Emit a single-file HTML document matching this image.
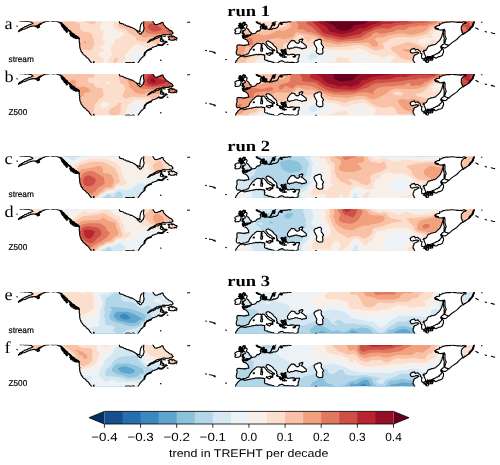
<!DOCTYPE html>
<html><head><meta charset="utf-8"><title>fig</title>
<style>html,body{margin:0;padding:0;background:#fff}svg{display:block}text{font-family:"Liberation Sans",sans-serif;fill:#000;text-rendering:geometricPrecision}.s{font-family:"Liberation Serif",serif}</style></head><body>
<svg width="500" height="465" viewBox="0 0 500 465">
<rect width="500" height="465" fill="#fff"/>
<defs>
<clipPath id="land" clip-rule="evenodd"><path clip-rule="evenodd" d="M51.0,-8.3 51.0,-0.2 57.0,0.0 60.0,1.0 62.0,2.0 64.0,3.7 66.0,6.0 68.5,8.5 70.5,9.9 72.0,11.7 75.0,14.0 77.5,15.3 79.2,17.0 79.3,20.7 79.6,24.7 80.3,27.7 81.8,31.0 83.5,33.2 86.0,35.1 88.0,37.0 90.0,39.7 91.5,41.9 92.3,49.7 124.6,49.7 125.6,41.5 128.0,41.3 131.0,41.5 134.4,41.4 135.5,49.7 137.6,49.7 138.0,41.7 139.3,39.7 141.0,37.4 142.8,35.5 144.6,34.0 144.4,32.2 145.6,30.7 147.0,29.3 148.5,28.5 150.5,27.9 152.0,26.5 153.7,25.7 155.5,25.0 157.0,24.5 158.5,23.2 160.0,23.3 161.5,24.0 164.0,22.2 166.0,21.0 167.3,20.5 166.0,19.7 164.0,20.3 162.0,20.1 160.3,19.2 160.8,16.7 161.8,15.0 160.0,15.5 157.0,16.7 153.0,18.7 149.5,20.3 147.5,21.1 149.0,19.7 152.5,17.5 156.0,15.5 159.0,14.3 162.0,13.7 165.5,13.6 169.0,13.3 172.0,12.6 173.2,11.7 172.0,10.0 170.8,9.1 168.5,7.7 166.0,6.2 164.5,4.2 163.2,2.2 162.3,1.0 161.3,1.2 160.0,2.3 158.5,2.5 157.0,3.2 155.2,3.1 154.0,1.7 153.2,0.5 153.0,-8.3 143.6,-8.3 143.7,1.2 143.9,5.7 143.2,9.7 141.5,12.1 139.6,12.5 138.2,11.3 137.0,9.5 135.0,7.9 132.5,6.3 128.0,4.7 124.0,3.3 120.5,2.0 119.4,0.7 119.2,-8.3Z M92.9,49.7 93.4,40.5 94.0,40.2 94.8,49.7Z M20.0,-8.3 20.0,-0.2 26.0,-0.1 30.0,0.4 33.0,1.9 30.0,3.3 26.0,5.1 22.0,7.2 18.4,9.7 18.6,10.3 21.0,9.1 24.0,7.8 27.0,6.5 30.0,5.4 33.0,4.6 35.0,5.0 37.5,4.4 39.5,3.2 41.5,2.1 45.0,0.3 49.0,-0.1 49.0,-8.3Z M168.0,15.3 170.0,14.6 172.0,14.2 172.3,15.5 174.5,15.3 175.5,16.1 177.2,17.0 176.3,18.7 174.8,17.9 173.5,18.6 171.0,18.8 168.6,18.3 169.4,16.9Z M235.4,49.7 235.6,41.7 236.4,39.2 237.6,37.3 239.3,35.9 241.5,34.7 241.6,34.3 240.5,34.1 239.5,33.3 237.2,33.6 236.7,32.9 236.2,31.2 236.4,29.7 237.2,27.7 236.8,25.7 237.0,24.0 238.0,23.5 242.0,23.7 246.0,24.0 248.7,23.3 248.4,21.7 247.6,19.7 246.0,18.0 243.2,17.1 242.5,16.0 245.0,15.6 247.4,15.3 247.5,14.0 248.6,14.7 250.5,13.8 252.5,12.5 254.0,12.2 256.0,11.2 257.5,9.5 259.5,8.9 260.6,8.3 260.8,6.7 260.6,4.7 261.2,3.3 263.4,2.3 264.4,2.9 264.4,2.9 262.0,2.3 259.5,3.0 257.7,2.0 256.6,0.7 256.4,-8.3 474.4,-8.3 474.2,0.3 473.6,1.7 473.0,3.3 472.2,4.9 471.0,6.5 469.4,8.3 467.6,9.9 465.6,11.5 463.4,12.9 462.0,10.9 461.3,8.7 461.3,6.7 461.8,4.5 463.4,2.5 466.2,1.1 465.0,0.4 463.0,0.7 461.0,1.0 455.0,0.6 450.0,0.7 446.0,0.7 443.0,1.2 440.5,2.7 438.0,4.2 436.0,5.0 435.0,6.2 435.5,7.2 438.0,7.7 440.0,8.7 441.5,8.5 443.0,9.3 442.8,11.7 442.0,14.7 440.6,17.7 438.5,20.2 436.0,22.2 433.0,23.7 430.0,24.5 428.5,24.7 427.0,27.2 425.6,28.7 424.0,29.0 423.0,30.2 424.0,31.7 425.3,34.2 425.5,36.7 424.0,37.5 422.0,37.2 421.5,34.7 422.0,32.4 420.3,31.7 420.0,29.7 418.5,28.7 417.0,28.1 416.0,28.2 415.5,28.7 414.5,26.9 413.5,27.2 411.5,27.7 410.0,29.2 410.5,30.7 412.5,31.7 414.5,31.2 417.0,30.7 418.7,31.7 416.0,33.2 413.7,34.7 413.0,38.7 415.0,41.7 415.3,49.7 317.0,49.7 316.4,41.3 315.6,41.3 315.0,49.7Z M242.0,34.4 243.0,33.7 246.0,33.3 247.5,32.5 249.0,31.2 249.8,29.2 250.5,27.9 252.0,26.2 254.0,24.7 254.5,23.7 256.0,22.7 258.0,21.9 260.0,22.2 261.5,22.9 262.5,22.0 264.0,22.3 265.5,24.2 267.5,26.2 269.5,28.0 271.5,28.7 272.3,30.7 271.5,32.5 272.8,31.2 273.2,29.5 273.0,28.5 274.6,29.3 274.2,28.3 272.2,27.3 271.4,26.5 269.4,25.5 267.6,23.9 266.2,22.3 266.0,20.9 266.8,19.9 268.8,19.7 269.6,20.5 271.2,21.3 273.2,23.3 275.4,25.3 276.8,26.9 276.6,28.7 277.3,30.2 278.3,31.2 279.5,32.5 279.5,33.7 281.0,34.9 282.0,34.2 282.5,32.9 283.0,32.2 282.0,31.0 281.5,29.7 281.5,28.2 283.0,28.5 283.5,29.2 284.5,28.0 286.0,27.7 286.0,29.2 286.0,30.7 286.5,32.0 287.5,33.5 290.0,33.2 292.0,33.2 292.5,32.7 295.0,34.0 297.0,33.4 299.5,33.2 299.0,35.7 298.2,38.7 297.2,40.7 296.7,41.3 294.0,41.2 292.5,40.9 290.0,41.1 287.0,40.7 285.0,40.9 283.0,39.7 281.0,39.5 279.5,40.0 278.0,41.2 277.0,41.9 275.0,41.9 272.0,40.7 270.0,39.9 268.0,39.7 265.5,38.7 264.5,37.7 265.0,36.2 264.5,35.2 265.0,33.7 263.5,33.2 260.0,33.2 254.0,33.5 250.0,34.2 247.0,35.0 244.0,35.2 242.0,34.9Z M287.5,25.2 288.5,22.7 290.0,20.7 291.8,18.9 293.5,19.2 295.0,20.7 296.0,21.2 297.0,22.0 298.5,21.7 299.5,20.7 300.0,20.2 299.0,19.2 300.5,18.2 303.0,18.0 302.5,19.5 301.3,20.5 303.0,21.7 305.0,23.5 306.3,24.7 306.5,26.2 304.0,27.0 301.0,26.9 298.0,26.2 296.0,25.7 293.0,26.5 290.0,27.2 288.5,27.0 287.5,26.7Z M316.2,18.9 318.2,18.1 320.5,18.0 321.6,19.3 321.2,21.3 321.6,23.2 323.4,25.1 323.6,26.3 322.4,27.7 322.9,30.9 321.6,32.5 319.2,32.9 317.4,31.9 316.4,30.3 316.8,27.3 315.4,24.3 314.2,22.1 314.0,20.7 315.0,19.5Z M244.9,6.7 247.6,6.9 249.5,9.7 251.0,11.1 250.8,12.6 249.5,13.4 246.0,13.9 244.6,12.9 243.8,11.7 244.3,9.3Z M263.4,21.9 264.0,22.3 265.5,24.2 267.5,26.2 269.5,28.0 271.5,28.7 272.3,30.7 271.5,32.5 272.8,31.2 273.2,29.5 273.0,28.5 274.6,29.3 274.2,28.3 272.2,27.3 271.4,26.5 269.4,25.5 267.6,23.9 266.2,22.3 266.0,21.3Z M277.3,30.2 278.3,31.2 279.5,32.5 279.5,33.7 281.0,34.9 282.0,34.2 282.5,32.9 283.0,32.2 282.0,31.0 281.5,29.7 279.5,29.5Z M420.3,31.7 422.0,32.4 421.5,34.7 422.0,37.2 424.0,37.5 425.5,36.7 425.3,34.2 424.0,31.7 423.0,30.2 421.0,30.3Z M260.8,6.7 260.6,4.7 261.2,3.3 263.4,2.3 264.4,2.9 264.2,4.3 263.8,6.1 264.6,7.9 262.6,8.5 260.6,8.3Z M158.5,23.2 160.0,23.3 161.5,24.0 164.0,22.2 166.0,21.0 167.3,20.5 166.0,19.7 164.0,20.3 162.0,20.1 160.3,19.2 159.5,21.2Z"/></clipPath>
<clipPath id="box"><rect x="0" y="0" width="500" height="41.30"/></clipPath>
<clipPath id="boxs"><rect x="0" y="-0.1" width="500" height="41.60"/></clipPath>
<g id="coast" fill="none" stroke="#000" stroke-linejoin="round" stroke-linecap="round"><path d="M51.0,-8.3 51.0,-7.1 50.9,-6.2 50.9,-5.1 51.0,-3.3 50.9,-2.7 51.1,-1.2 51.0,-0.2 52.2,-0.4 53.4,0.1 54.2,-0.2 55.3,-0.4 57.0,0.0 57.5,0.3 58.6,0.7 60.0,1.0 61.0,1.4 62.0,2.0 62.0,2.4 63.3,3.2 64.0,3.7 64.2,4.3 65.1,5.0 66.0,6.0 67.1,6.6 67.7,7.9 68.5,8.5 69.3,9.2 70.5,9.9 71.3,10.8 72.0,11.7 72.7,12.5 74.4,12.8 75.0,14.0 76.1,14.5 76.5,15.4 77.5,15.3 78.6,15.8 79.2,17.0 79.3,18.4 79.2,19.7 79.3,20.7 79.4,21.9 79.9,22.5 79.6,23.6 79.6,24.7 79.9,25.4 79.9,26.6 80.3,27.7 81.1,29.1 80.9,29.7 81.8,31.0 82.5,31.2 82.8,32.4 83.5,33.2 84.7,34.0 85.1,34.4 86.0,35.1 86.6,36.2 87.2,36.3 88.0,37.0 88.8,37.9 89.3,38.5 90.0,39.7 90.5,40.3 91.3,41.3 91.5,41.9 91.6,43.2 91.6,44.4 91.8,45.4 91.6,46.5 91.6,46.9 92.1,48.3 92.3,49.7 124.6,49.7 124.8,49.2 124.7,47.2 125.1,46.3 125.1,45.0 125.5,44.0 125.2,42.6 125.6,41.5 126.8,41.1 128.0,41.3 129.1,41.1 130.3,41.5 131.0,41.5 132.2,41.3 133.2,40.9 134.4,41.4 134.2,42.7 134.1,44.0 134.4,45.2 134.8,46.4 135.2,46.9 135.7,48.9 135.5,49.7 136.5,49.6 137.6,49.7 137.6,48.3 138.0,47.3 137.8,46.0 137.7,44.8 138.2,43.9 138.2,42.8 138.0,41.7 138.5,40.6 139.3,39.7 139.7,38.9 140.3,38.1 141.0,37.4 141.2,36.5 142.7,35.9 142.8,35.5 143.4,34.8 144.6,34.0 144.9,32.7 144.4,32.2 144.9,31.3 145.6,30.7 145.8,30.2 147.0,29.3 147.7,28.9 148.5,28.5 149.3,28.3 150.5,27.9 151.1,27.2 152.0,26.5 152.5,25.8 153.7,25.7 155.0,25.2 155.5,25.0 156.3,24.7 157.0,24.5 157.6,23.7 158.5,23.2 159.4,23.2 160.0,23.3 160.7,23.7 161.5,24.0 162.7,23.6 163.3,22.6 164.0,22.2 164.6,21.9 166.0,21.0 166.9,20.7 167.3,20.5 166.8,20.3 166.0,19.7 165.2,20.3 164.0,20.3 162.9,20.6 162.0,20.1 160.8,19.9 160.3,19.2 160.7,18.2 160.8,16.7 161.8,16.3 161.8,15.0 160.6,14.8 160.0,15.5 159.2,15.6 158.0,16.5 157.0,16.7 155.5,16.6 155.1,17.7 153.9,18.2 153.0,18.7 151.6,18.8 150.6,19.5 149.5,20.3 148.0,20.8 147.5,21.1 148.2,20.5 149.0,19.7 149.6,19.0 150.5,18.4 151.7,17.8 152.5,17.5 153.5,17.1 154.8,16.1 155.4,16.0 156.0,15.5 157.0,14.7 157.9,14.9 159.0,14.3 160.0,14.1 160.9,14.2 162.0,13.7 163.2,13.1 164.1,13.1 165.5,13.6 165.8,13.4 168.2,13.4 169.0,13.3 169.7,12.8 171.3,12.9 172.0,12.6 172.6,12.1 173.2,11.7 172.6,11.1 172.0,10.0 171.6,9.6 170.8,9.1 169.7,8.8 169.1,8.5 168.5,7.7 167.3,7.2 166.8,6.3 166.0,6.2 165.7,5.6 164.5,4.2 163.7,3.4 163.2,2.2 162.9,0.9 162.3,1.0 161.3,1.2 160.7,1.7 160.0,2.3 159.3,2.1 158.5,2.5 157.7,2.8 157.0,3.2 156.4,3.2 155.2,3.1 154.6,2.8 154.0,1.7 153.4,1.0 153.2,0.5 152.7,-0.3 153.4,-1.8 153.3,-3.2 153.1,-4.6 153.0,-5.8 153.5,-6.9 153.0,-8.3 151.8,-8.5 150.5,-7.9 149.6,-8.3 148.2,-8.6 147.1,-8.1 145.8,-8.4 144.7,-8.3 143.6,-8.3 143.2,-7.2 143.4,-5.7 143.4,-4.6 144.1,-3.6 143.5,-2.3 143.7,-1.5 143.8,0.6 143.7,1.2 143.7,2.3 143.5,3.5 143.5,4.3 143.9,5.7 144.1,6.4 143.9,8.1 143.4,8.9 143.2,9.7 143.2,10.4 141.9,10.9 141.5,12.1 140.6,12.7 139.6,12.5 139.2,11.6 138.2,11.3 137.4,10.3 137.0,9.5 136.1,8.6 135.0,7.9 134.2,7.4 133.2,6.8 132.5,6.3 131.4,5.9 130.4,6.0 129.3,5.1 128.0,4.7 126.5,4.5 125.5,3.6 125.2,3.8 124.0,3.3 122.8,2.4 121.6,2.2 120.5,2.0 120.1,2.0 119.4,0.7 119.4,-0.8 119.0,-1.9 119.3,-3.5 119.3,-4.8 119.6,-5.4 119.5,-7.1 119.2,-8.3Z M92.9,49.7 93.1,48.5 92.9,47.3 92.7,45.8 93.4,45.0 93.3,44.2 92.8,42.6 93.4,41.8 93.4,40.5 94.0,40.2 94.0,41.7 94.3,42.2 94.0,44.0 94.5,44.4 94.9,46.3 95.0,47.2 94.6,48.2 94.8,49.7 94.6,49.7Z M20.0,-8.3 20.4,-7.3 20.0,-6.4 19.9,-4.5 19.6,-3.3 20.1,-2.8 19.9,-1.4 20.0,-0.2 21.2,-0.3 22.2,-0.2 23.3,-0.5 24.8,0.1 26.0,-0.1 26.6,0.0 27.8,-0.1 29.2,0.1 30.0,0.4 31.4,0.7 32.1,1.3 33.0,1.9 31.8,2.5 31.0,3.0 30.0,3.3 29.0,3.4 28.0,4.2 27.3,4.4 26.0,5.1 25.0,5.1 24.2,5.8 22.5,6.7 22.0,7.2 21.4,7.4 19.9,8.2 19.0,9.2 18.4,9.7 18.6,10.3 19.2,9.7 20.4,9.3 21.0,9.1 22.1,8.4 22.7,7.7 24.0,7.8 25.5,7.3 26.1,6.9 27.0,6.5 28.0,6.1 29.5,5.5 30.0,5.4 30.6,4.8 31.6,5.1 33.0,4.6 34.2,4.5 35.0,5.0 35.9,4.6 37.5,4.4 38.9,3.0 39.5,3.2 40.6,2.3 41.5,2.1 42.7,1.3 43.2,0.8 43.9,1.1 45.0,0.3 46.2,0.1 46.8,-0.4 47.9,-0.0 49.0,-0.1 49.0,-1.3 48.7,-2.5 49.0,-3.3 49.5,-4.8 48.8,-6.0 48.8,-7.3 49.0,-8.3 47.7,-8.6 46.6,-8.3 45.3,-8.4 43.8,-8.6 42.6,-8.5 41.5,-8.3 39.8,-8.3 38.5,-8.5 37.6,-8.9 36.4,-8.3 35.1,-8.4 33.8,-8.6 32.5,-8.5 31.4,-8.6 30.2,-8.3 28.8,-8.4 27.7,-8.8 26.4,-8.2 25.1,-8.2 23.6,-8.4 22.7,-8.2 21.3,-8.7Z M168.0,15.3 169.2,15.3 170.0,14.6 171.3,14.5 172.0,14.2 171.7,15.1 172.3,15.5 173.4,14.7 174.5,15.3 175.5,16.1 176.5,16.1 177.2,17.0 176.4,17.7 176.3,18.7 175.9,18.2 174.8,17.9 174.2,18.7 173.5,18.6 172.7,18.7 171.0,18.8 169.7,18.2 168.6,18.3 168.8,17.7 169.4,16.9 168.8,16.1Z M65.3,7.9 66.2,8.0 66.6,8.5 67.1,9.7 67.6,10.5 66.4,10.9 66.2,10.2 65.8,8.8Z M70.2,12.7 71.2,12.6 72.0,13.1 72.5,13.9 74.0,14.5 75.0,15.1 75.3,15.5 76.3,15.9 77.2,16.7 76.0,16.9 76.0,17.2 75.3,16.9 73.8,16.3 73.0,15.9 72.4,14.5 71.4,14.9 70.6,14.1 70.6,13.9Z M242.0,34.4 243.0,33.7 244.3,33.7 245.1,33.7 246.0,33.3 246.6,32.9 247.5,32.5 248.5,32.4 249.0,31.2 249.4,30.2 249.8,29.2 250.2,28.9 250.5,27.9 251.2,27.5 252.0,26.2 252.7,25.4 254.0,24.7 254.5,23.7 255.2,23.4 256.0,22.7 257.3,21.9 258.0,21.9 258.7,22.1 260.0,22.2 260.6,22.1 261.5,22.9 262.3,22.6 262.5,22.0 263.4,22.0 264.0,22.3 265.0,23.2 265.5,24.2 266.5,24.6 266.6,25.6 267.5,26.2 268.0,27.0 268.9,27.1 269.5,28.0 270.5,28.3 271.5,28.7 272.2,29.5 272.3,30.7 271.8,31.9 271.5,32.5 272.8,32.4 272.8,31.2 273.0,30.4 273.2,29.5 273.0,28.5 274.2,28.9 274.6,29.3 274.2,28.3 272.9,27.8 272.2,27.3 271.4,26.5 270.5,25.8 269.4,25.5 268.0,24.3 267.6,23.9 267.1,22.9 266.2,22.3 266.1,21.7 266.0,20.9 266.8,19.9 268.0,19.7 268.8,19.7 269.6,20.5 270.5,20.7 271.2,21.3 271.8,21.7 272.9,22.6 273.2,23.3 273.7,23.9 274.6,24.8 275.4,25.3 275.7,25.8 276.8,26.9 276.6,28.5 276.6,28.7 277.2,29.4 277.3,30.2 278.0,31.3 278.3,31.2 278.8,31.7 279.5,32.5 279.5,33.7 280.6,34.4 281.0,34.9 282.0,34.2 282.4,33.4 282.5,32.9 283.0,32.2 283.0,32.1 282.0,31.0 281.9,30.5 281.5,29.7 280.9,29.1 281.5,28.2 282.2,28.5 283.0,28.5 283.5,29.2 284.2,28.5 284.5,28.0 284.8,28.0 286.0,27.7 285.8,28.4 286.0,29.2 285.8,29.9 286.0,30.7 285.6,31.7 286.5,32.0 287.1,33.1 287.5,33.5 289.3,33.4 290.0,33.2 290.5,32.9 292.0,33.2 292.5,32.7 293.0,33.0 294.2,33.0 295.0,34.0 296.1,33.3 297.0,33.4 298.3,33.3 299.5,33.2 299.2,34.4 299.0,35.7 298.6,36.5 298.0,37.7 298.2,38.7 298.2,40.3 297.2,40.7 296.7,41.3 296.2,41.5 294.7,41.6 294.0,41.2 293.2,41.0 292.5,40.9 291.2,41.0 290.0,41.1 288.9,40.9 287.7,40.7 287.0,40.7 286.6,40.8 285.0,40.9 283.9,40.4 283.0,39.7 282.2,39.3 281.0,39.5 280.2,40.0 279.5,40.0 278.8,40.6 278.0,41.2 277.0,41.9 276.4,41.7 275.0,41.9 274.0,41.4 273.4,40.6 272.0,40.7 270.8,40.2 270.0,39.9 269.2,40.0 268.0,39.7 267.6,38.9 266.5,39.0 265.5,38.7 264.8,38.4 264.5,37.7 264.5,36.4 265.0,36.2 264.5,35.2 264.6,34.0 265.0,33.7 264.1,33.6 263.5,33.2 262.4,33.6 261.1,32.8 260.0,33.2 258.6,33.0 257.3,33.4 256.2,32.8 255.4,33.4 254.0,33.5 253.1,33.7 252.2,33.9 251.3,34.1 250.0,34.2 249.1,34.6 247.6,34.7 247.0,35.0 245.9,35.1 244.6,35.6 244.0,35.2 243.0,34.7 242.0,34.9Z M287.5,25.2 287.4,24.3 288.1,23.3 288.5,22.7 289.3,21.5 290.0,20.7 291.1,19.6 291.8,18.9 292.6,19.3 293.5,19.2 295.0,19.7 295.0,20.7 296.0,21.2 297.0,22.0 297.6,21.6 298.5,21.7 299.2,20.9 299.5,20.7 300.0,20.2 299.4,19.7 299.0,19.2 299.5,18.4 300.5,18.2 301.6,17.5 303.0,18.0 302.3,18.6 302.5,19.5 301.9,19.9 301.3,20.5 301.7,21.0 303.0,21.7 303.9,22.5 304.3,22.7 305.0,23.5 305.8,23.9 306.3,24.7 306.1,25.2 306.5,26.2 306.1,26.5 305.2,26.6 304.0,27.0 303.3,26.8 302.0,27.6 301.0,26.9 300.2,26.5 299.0,26.5 298.0,26.2 297.3,25.8 296.0,25.7 294.5,25.9 294.0,26.3 293.0,26.5 292.4,26.8 291.2,26.7 290.0,27.2 289.5,27.7 288.5,27.0 287.5,26.7 287.7,26.0Z M316.2,18.9 317.2,19.0 318.2,18.1 319.1,18.0 320.5,18.0 321.2,18.9 321.6,19.3 321.3,20.4 321.2,21.3 321.3,22.3 321.6,23.2 322.2,23.5 322.8,24.7 323.4,25.1 323.6,26.3 322.7,26.9 322.4,27.7 322.8,28.5 322.8,29.5 322.9,30.9 322.6,32.3 321.6,32.5 321.0,32.6 319.2,32.9 318.5,32.4 317.4,31.9 316.9,31.5 316.4,30.3 316.2,29.6 316.7,28.7 316.8,27.3 316.4,26.1 315.9,25.5 315.4,24.3 314.8,23.3 314.2,22.1 314.0,20.8 314.0,20.7 314.8,20.3 315.0,19.5 315.6,19.2Z M243.5,1.0 244.8,1.0 245.5,1.2 245.1,2.1 245.0,3.2 246.3,3.1 247.0,3.7 247.1,4.5 246.5,5.7 246.9,7.1 248.0,7.7 248.7,8.3 249.5,9.7 250.1,10.6 251.0,10.9 251.3,11.6 251.0,12.5 250.4,13.2 249.5,13.5 248.2,13.8 247.2,13.7 246.0,14.0 244.9,14.3 244.0,14.3 243.0,14.7 242.3,14.2 242.9,14.0 243.8,13.4 244.5,12.7 244.3,12.4 243.5,11.7 242.8,10.7 243.6,9.7 243.2,9.2 244.3,8.9 245.0,8.7 245.4,8.2 244.8,6.7 243.6,6.1 243.5,6.0 243.4,5.3 243.0,4.2 242.6,3.7 241.8,3.2 242.3,2.6 242.5,1.7Z M235.0,7.9 235.7,7.7 236.4,6.9 236.9,6.9 238.6,6.5 239.2,6.5 240.4,5.9 240.6,6.4 241.0,7.3 241.1,8.0 241.0,9.3 240.4,9.9 240.4,11.3 239.5,11.9 238.6,12.3 237.9,12.3 236.9,12.4 235.6,12.5 235.2,12.1 234.8,11.3 235.6,10.5 235.8,9.9 235.2,9.4 234.8,8.9Z M256.0,-8.3 256.1,-7.3 256.3,-5.9 256.2,-4.8 256.2,-3.2 256.0,-1.4 256.3,-0.3 256.2,0.5 256.5,1.4 257.4,1.5 257.8,2.0 258.5,2.4 259.5,2.5 260.3,2.8 260.9,2.8 261.6,3.9 260.9,2.5 260.4,2.3 259.3,1.6 258.0,1.3 257.2,0.3 257.0,-1.0 257.3,-2.6 256.7,-3.7 256.6,-4.9 257.6,-6.1 257.4,-7.5 257.2,-8.3Z M269.2,8.1 270.1,7.0 270.8,6.1 271.1,5.6 271.4,4.7 272.0,3.6 273.2,3.2 273.4,2.7 274.0,1.8 274.6,1.5 275.2,0.6 275.4,-0.1 275.6,-1.3 275.9,-3.0 275.3,-3.4 275.3,-5.0 275.3,-6.3 275.4,-6.4 275.4,-8.3 275.8,-8.3 276.1,-7.4 275.6,-6.0 276.1,-4.9 275.6,-3.3 276.0,-2.4 275.5,-1.5 275.8,0.1 275.2,0.3 274.9,1.8 274.5,2.2 273.6,3.0 273.1,4.0 272.3,3.9 271.7,4.9 271.7,5.3 271.1,6.4 270.5,7.6 269.5,8.2Z M264.8,5.3 265.5,4.7 266.6,4.7 266.7,5.2 266.8,6.5 266.5,6.1 265.4,7.1 264.8,6.3Z M261.2,23.7 262.2,24.1 261.8,25.0 262.1,26.0 261.1,26.0 261.1,24.9Z M260.8,26.7 261.6,26.6 262.3,26.7 262.7,27.1 262.4,28.5 262.4,29.7 261.7,29.8 260.9,29.8 260.6,28.6 261.1,27.8Z M266.4,31.7 267.3,32.3 268.5,31.8 270.3,31.2 270.8,31.5 270.7,33.0 270.5,33.1 269.8,34.0 269.0,33.7 267.8,33.3 267.0,32.7 266.3,32.5Z M282.4,35.7 283.4,35.4 284.5,35.5 285.8,35.5 286.6,35.7 285.4,35.6 284.5,36.2 283.4,35.7Z M293.0,35.1 293.6,35.3 294.3,34.9 295.2,34.7 295.8,34.3 295.5,35.0 295.0,35.6 294.3,35.7 293.6,35.9Z M253.2,28.0 254.3,27.8 254.2,28.7 253.3,28.7Z M443.2,8.2 444.3,8.0 444.7,8.6 445.1,9.8 445.0,10.7 444.9,11.6 445.0,12.7 445.0,14.0 445.3,14.7 445.4,15.1 445.8,16.1 446.3,17.7 445.5,18.2 445.3,19.5 445.3,19.8 445.0,21.2 444.2,22.2 443.9,21.5 444.2,19.9 444.0,18.7 444.2,18.4 444.3,16.7 443.9,15.9 443.8,14.7 443.5,13.4 443.6,12.4 443.4,11.7 443.3,10.7 443.9,9.2Z M441.0,25.2 441.7,24.2 442.5,23.2 443.6,22.9 444.5,22.0 445.1,22.4 446.0,23.2 446.5,23.2 448.2,23.7 449.0,24.0 447.7,24.6 447.0,25.5 446.0,26.2 445.0,26.7 443.8,26.4 443.0,26.2 442.0,26.6 442.0,27.7 442.0,26.6 441.0,26.7 440.9,26.0Z M442.5,27.7 442.9,28.0 443.5,28.7 443.5,29.9 443.5,31.2 443.1,31.5 442.8,32.6 442.5,33.7 441.6,34.3 441.0,34.7 439.9,35.2 438.5,35.2 437.4,36.1 436.5,36.5 435.7,36.7 434.6,36.1 433.0,36.0 432.0,36.5 430.6,36.5 430.0,36.7 429.1,36.5 428.5,36.5 428.5,35.6 429.5,35.2 430.7,35.1 432.0,34.5 433.1,34.2 433.6,33.7 434.5,33.7 435.6,32.9 436.5,32.2 437.4,32.4 438.0,31.7 438.7,31.0 439.5,31.2 440.0,29.8 441.0,29.2 441.1,28.8 441.8,27.7Z M426.5,36.7 427.6,36.4 428.5,36.9 428.9,38.2 429.0,38.7 428.6,39.3 428.2,40.4 428.0,41.2 427.4,41.4 426.5,41.0 426.6,40.2 426.0,38.7 426.6,37.9Z M430.5,37.5 431.3,37.3 433.0,37.2 432.8,37.8 432.5,38.7 431.8,38.7 430.5,38.9 430.2,38.6Z M235.4,49.7 235.6,48.6 235.7,47.7 235.6,45.6 235.3,45.0 235.3,44.0 235.9,42.7 235.6,41.7 235.5,41.4 236.0,39.7 236.4,39.2 237.1,38.4 237.6,37.3 238.3,36.8 239.3,35.9 240.3,35.0 241.5,34.7 241.6,34.3 240.5,34.1 239.5,33.3 238.4,33.7 237.2,33.6 236.7,32.9 236.3,32.1 236.2,31.2 236.3,31.2 236.4,29.7 236.6,29.1 237.2,27.7 237.0,26.7 236.8,25.7 237.1,25.1 237.0,24.0 238.0,23.5 239.4,23.6 239.8,23.4 241.1,23.8 242.0,23.7 243.4,23.9 244.3,24.3 245.0,23.5 246.0,24.0 246.6,23.4 248.2,23.3 248.7,23.3 248.9,22.7 248.4,21.7 248.5,21.0 247.6,19.7 246.8,18.8 246.0,18.0 245.1,17.7 244.0,17.4 243.2,17.1 243.3,16.1 242.5,16.0 243.8,15.5 245.0,15.6 246.3,15.7 247.4,15.3 247.4,14.9 247.5,14.0 247.6,14.7 248.6,14.7 249.4,14.4 250.5,13.8 251.6,12.4 252.5,12.5 253.0,12.4 254.0,12.2 255.4,11.8 256.0,11.2 256.8,10.0 257.5,9.5 258.9,9.7 259.5,8.9 260.6,8.3 260.7,7.4 260.8,6.7 260.2,5.9 260.6,4.7 261.7,4.2 261.2,3.3 262.7,3.0 263.4,2.3 264.4,2.9 264.4,2.9 264.0,4.0 264.2,4.3 263.7,5.1 263.8,6.1 264.3,7.2 264.6,7.9 265.7,7.9 266.6,7.6 267.6,7.5 269.1,8.2 270.1,7.9 270.7,7.7 272.0,8.0 272.9,7.2 273.6,6.9 275.0,7.1 275.9,6.9 277.2,6.0 277.5,6.1 277.9,5.4 278.6,4.1 278.7,3.3 279.0,2.7 280.0,2.0 280.0,1.5 280.5,1.0 281.8,1.3 282.6,1.1 283.3,0.7 285.0,1.0 286.0,0.7 287.0,0.8 288.5,0.1 289.5,0.5 290.2,0.5 291.0,0.3 M474.4,-8.3 474.2,-7.7 474.3,-5.6 474.8,-5.2 475.0,-3.7 474.5,-1.8 474.5,-0.9 474.2,0.3 473.6,1.2 473.6,1.7 473.1,1.8 473.0,3.3 473.4,4.3 472.2,4.9 472.1,5.4 471.0,6.5 470.6,7.8 469.4,8.3 468.9,9.1 467.6,9.9 466.3,10.7 465.6,11.5 464.2,11.5 464.2,12.2 463.4,12.9 462.7,11.9 462.0,10.9 462.2,10.2 461.3,8.7 461.3,8.0 461.3,6.7 461.3,5.5 461.8,4.5 462.9,3.2 463.4,2.5 464.3,1.7 465.3,2.0 466.2,1.1 465.4,0.8 465.0,0.4 463.7,0.2 463.0,0.7 461.7,1.3 461.0,1.0 460.5,1.1 458.4,1.0 457.3,1.0 456.3,0.8 455.0,0.6 453.9,0.5 452.4,0.2 451.1,0.3 450.0,0.7 449.0,0.4 448.0,0.8 446.6,0.5 446.0,0.7 444.7,1.1 444.5,1.3 443.0,1.2 442.1,2.1 440.9,2.6 440.5,2.7 439.5,2.4 439.6,4.1 438.0,4.2 436.7,4.6 436.0,5.0 435.4,5.6 435.0,6.2 435.5,7.2 436.3,7.3 438.0,7.7 439.1,8.3 440.0,8.7 441.1,8.6 441.5,8.5 442.9,8.7 443.0,9.3 443.0,10.0 442.8,11.7 442.2,13.1 442.0,13.8 442.0,14.7 441.5,15.4 441.0,16.6 440.6,17.7 439.8,18.7 439.4,19.2 438.5,20.2 437.4,20.9 436.8,21.8 436.0,22.2 435.7,22.9 434.0,23.2 433.0,23.7 431.8,23.7 430.7,24.1 430.0,24.5 429.1,24.8 428.5,24.7 427.9,25.5 427.2,26.8 427.0,27.2 426.4,28.5 425.6,28.7 425.0,29.3 424.0,29.0 423.4,29.8 423.0,30.2 424.3,30.6 424.0,31.7 424.8,33.0 425.0,33.6 425.3,34.2 425.8,35.3 425.5,36.7 424.9,36.9 424.0,37.5 422.8,37.2 422.0,37.2 421.7,36.0 421.5,34.7 421.9,33.1 422.0,32.4 421.7,32.4 420.3,31.7 420.4,30.6 420.0,29.7 419.2,29.4 418.5,28.7 417.9,27.9 417.0,28.1 416.0,28.2 415.5,28.7 415.2,28.6 414.5,26.9 413.5,27.2 412.0,27.7 411.5,27.7 410.9,28.4 410.0,29.2 410.6,29.6 410.5,30.7 411.5,31.6 412.5,31.7 413.4,31.3 414.5,31.2 415.8,30.8 417.0,30.7 418.3,30.9 418.7,31.7 418.1,31.8 417.1,32.7 416.0,33.2 414.5,33.7 414.2,34.1 413.7,34.7 414.0,35.4 413.0,37.1 413.2,38.1 413.0,38.7 413.8,39.4 414.3,41.1 415.0,41.7 415.3,42.8 415.1,44.0 415.0,45.7 415.2,45.9 415.1,47.6 415.4,48.5 415.3,49.7 317.0,49.7 316.7,48.5 316.3,46.9 317.0,46.0 316.8,45.3 316.8,43.7 317.1,42.7 316.4,41.3 315.6,41.3 315.4,42.7 315.5,43.5 315.4,44.9 314.7,46.1 315.1,47.2 314.6,48.4 315.0,49.7 M187.6,0.8 189.6,0.7 M139.8,9.3 140.2,5.7 140.8,3.2 142.2,1.3 M137.6,9.3 140.4,10.3 M160.4,38.7 161.0,38.9 M167.2,23.1 168.0,23.2 M163.0,14.6 165.2,15.0 M61.0,3.2 63.0,5.7 64.5,6.7 M62.5,2.9 64.6,5.3 M37.0,6.0 39.2,4.9 39.6,5.9 37.4,6.6 M16.9,4.7 17.3,4.9 M205.7,29.0 206.4,29.2 M209.5,29.8 211.5,30.1 M212.5,30.3 214.6,31.6 M214.8,30.7 215.2,32.0 M225.7,38.0 226.5,38.3 M449.0,24.0 452.0,21.2 456.7,18.1 460.0,14.7 462.7,12.6 M475.8,6.5 477.0,7.1 478.2,7.8 M485.2,10.0 486.4,10.6 M491.2,11.4 493.0,11.9 494.6,12.2 M481.5,0.7 482.0,0.8 M280.3,2.3 281.6,1.9 282.6,2.6 281.2,3.2 280.3,2.3 M423.4,38.9 424.4,38.9 M283.5,30.2 284.5,31.2 M284.2,32.3 285.3,33.1 M283.2,33.7 284.6,34.3 M285.4,30.3 285.8,31.1 M282.8,29.9 283.4,31.3 M280.2,32.7 281.6,33.1 M276.6,30.5 277.2,31.5" stroke-width="1.12"/><path d="M36.0,4.9 37.0,4.6 37.7,4.4 39.0,3.9 39.7,3.0 41.0,2.3 M60.3,1.5 61.6,2.0 62.0,3.3 63.0,3.7 63.7,4.4 64.7,5.7 65.5,6.2 65.7,6.8 66.9,7.6 68.0,8.7 68.5,9.1 69.6,9.7 70.3,10.7 71.0,11.2 71.5,11.9 73.0,12.5 73.1,13.1 74.0,13.7 74.7,14.4 76.2,14.8 77.0,15.7 77.9,16.7 79.0,17.1 M62.0,4.5 62.5,5.3 63.0,5.7 64.0,6.7 64.5,8.2 65.2,8.3 66.0,9.3 M70.0,12.1 70.8,12.9 72.2,13.8 73.0,14.5 74.5,15.1 75.2,15.6 75.8,15.6 76.5,16.5 M239.4,2.3 240.0,3.1 240.6,3.9 241.0,4.1 241.6,5.5 242.1,6.3 242.2,7.3 M240.4,1.9 241.0,2.4 241.8,3.1 242.2,4.1 242.8,4.9 242.6,5.4 243.2,6.5 M238.8,4.3 239.5,5.0 240.0,5.7 240.4,6.0 241.0,6.7 M243.6,1.1 243.9,1.8 244.6,2.5 244.2,3.7 M242.4,9.7 242.6,10.4 242.2,11.7 243.2,12.5 243.4,12.9 M242.6,15.1 243.7,15.6 245.0,15.7 245.8,14.9 247.4,15.1 M261.6,3.7 261.7,4.4 262.6,5.3 262.3,6.1 262.2,7.1 M263.6,3.3 263.4,3.8 263.2,5.5 263.6,6.0 263.8,7.3 M265.0,5.1 265.4,5.5 266.2,6.1 265.6,6.9 M272.6,2.1 273.6,1.3 M274.2,3.9 274.2,2.9 274.8,2.7 M281.6,28.7 281.8,29.7 282.6,30.7 283.2,31.8 283.4,32.5 282.5,33.2 282.2,34.3 M284.6,28.7 284.8,29.8 285.6,30.7 285.3,31.9 286.2,32.5 M280.0,32.1 280.6,32.9 281.4,34.1 M161.4,17.1 162.2,18.1 163.0,18.9 163.6,19.3 M158.6,23.3 159.6,23.8 160.8,23.7 161.4,23.9 162.8,23.3 163.4,22.4 164.4,22.1 M144.4,33.9 144.4,33.3 144.6,32.3 144.8,31.7 145.8,30.7 M147.0,29.3 148.1,28.9 149.0,28.3 149.4,28.0 151.0,27.7 M429.0,36.3 430.4,36.0 431.5,36.1 432.8,35.3 434.0,35.9 M441.2,25.3 442.0,26.0 442.4,27.1 M474.0,0.9 473.9,1.2 473.5,2.4 473.0,3.3 472.7,3.9 471.8,5.7 471.4,5.9 470.4,6.6 469.7,7.5 469.0,8.7 M425.6,36.1 426.6,37.4 427.0,37.7 427.6,38.0 428.6,39.3 M424.6,38.3 425.6,39.5 426.0,40.1 M427.6,35.3 428.7,36.1 429.4,36.3 M435.2,5.9 435.5,6.6 436.2,7.3 436.8,7.1 438.2,7.7" stroke-width="1.75"/></g>
<filter id="ga" x="0" y="0" width="500" height="465" filterUnits="userSpaceOnUse"><feOffset dx="0" dy="0"/></filter>
</defs>
<g transform="translate(0,21.40)">
<g clip-path="url(#box)"><g clip-path="url(#land)"><rect x="12.0" y="-2" width="170.0" height="45.3" fill="#ecf2f5"/>
<path fill="#f9efe9" fill-rule="evenodd" d="M12.0,-2.0 182.0,-2.0 182.0,44.0 167.3,44.0 165.0,42.6 161.6,42.0 160.2,41.0 159.9,40.0 160.8,38.0 160.7,37.0 159.8,36.0 155.0,34.8 153.0,35.0 151.0,36.0 149.0,35.8 147.0,34.6 144.0,31.2 138.0,29.3 136.0,29.8 131.9,33.0 131.6,34.0 131.8,35.0 134.6,38.0 135.2,40.0 134.8,41.0 132.0,43.0 131.5,44.0 12.0,44.0Z"/>
<path fill="#fcdecd" fill-rule="evenodd" d="M12.0,-2.0 182.0,-2.0 182.0,44.0 179.5,44.0 177.0,41.6 173.0,39.9 171.0,38.5 170.3,37.0 172.3,35.0 171.7,34.0 163.0,32.0 159.0,29.6 154.0,29.3 152.0,28.8 146.0,26.4 142.0,24.1 139.2,23.0 137.0,22.8 135.0,23.2 130.8,27.0 129.4,29.0 125.2,33.0 124.6,34.0 124.6,35.0 125.5,37.0 125.4,38.0 123.2,41.0 123.4,44.0 107.4,44.0 107.2,42.0 108.2,40.0 108.5,37.0 109.0,36.0 111.7,34.0 112.3,33.0 110.7,30.0 111.2,25.0 114.4,22.0 114.4,20.0 115.5,18.0 119.0,16.5 122.9,14.0 123.7,13.0 123.6,12.0 122.8,11.0 119.0,9.7 115.0,7.0 113.7,5.0 113.6,3.0 113.0,1.8 111.0,0.7 106.0,-0.1 104.0,0.1 103.0,0.7 101.0,2.7 100.3,4.0 100.2,8.0 103.0,10.0 103.7,12.0 102.6,18.0 103.2,19.0 104.6,20.0 104.9,21.0 103.9,23.0 99.9,25.0 100.0,26.1 103.6,28.0 103.8,29.0 102.7,30.0 100.0,31.2 99.1,32.0 98.7,33.0 99.3,34.0 102.9,37.0 104.1,40.0 104.0,41.0 100.0,43.6 99.0,44.0 22.5,44.0 22.0,43.0 20.0,41.7 17.0,41.6 12.0,42.1 12.0,39.7 14.0,38.3 15.0,38.0 21.0,38.5 26.0,38.2 30.0,39.4 32.0,39.0 32.2,38.0 28.0,36.8 24.0,33.9 18.0,33.2 14.3,31.0 12.0,30.7Z M12.0,35.0 12.0,34.5 12.3,35.0 12.0,35.6Z"/>
<path fill="#f9c2a7" fill-rule="evenodd" d="M13.0,-1.0 14.3,-2.0 43.5,-2.0 45.0,0.7 46.0,1.4 47.0,1.5 48.0,1.0 48.9,-2.0 73.8,-2.0 75.0,-1.0 76.0,1.0 79.2,2.0 80.0,2.6 80.2,3.0 79.6,6.0 81.2,9.0 83.0,10.0 88.0,10.6 91.0,12.0 92.1,13.0 92.4,15.0 93.9,18.0 93.7,20.0 94.4,22.0 94.2,23.0 91.8,28.0 91.0,28.6 89.0,29.1 84.0,28.4 81.0,27.5 78.0,25.9 75.0,25.6 73.0,24.8 71.8,24.0 71.2,23.0 72.0,20.0 71.0,19.7 69.0,20.1 66.0,21.6 62.0,24.9 53.0,25.1 46.0,24.1 38.0,26.3 36.0,26.4 34.0,25.5 31.2,23.0 30.6,22.0 30.1,18.0 32.6,16.0 33.4,15.0 33.5,14.0 32.0,12.4 29.0,11.2 28.2,10.0 28.4,9.0 29.3,8.0 29.4,7.0 27.0,6.5 23.0,7.9 19.0,7.2 15.0,9.3 12.9,9.0 12.0,8.2 12.3,7.0 12.0,6.4 12.0,-0.6Z M83.1,-2.0 84.0,-2.0 98.8,-2.0 96.4,0.0 95.0,2.1 93.0,3.0 91.0,2.6 85.0,0.4 84.0,-0.3Z M128.8,-1.0 129.1,-2.0 182.0,-2.0 182.0,33.2 176.0,30.3 166.6,28.0 165.0,27.0 164.5,26.0 164.6,25.0 164.3,24.0 161.0,22.1 160.0,22.0 157.0,23.0 153.0,20.9 145.0,20.4 137.2,19.0 136.1,18.0 136.1,16.0 135.2,15.0 132.0,13.8 129.2,12.0 126.0,8.3 120.0,6.3 118.3,5.0 118.0,4.0 118.2,3.0 119.0,1.9 120.0,1.6 121.0,1.9 124.0,4.7 126.0,5.0 127.1,4.0Z M12.0,18.0 13.0,18.1 14.0,19.0 14.5,20.0 14.0,21.0 12.0,21.3Z M24.8,23.0 26.0,22.7 27.3,23.0 26.0,23.2Z M36.6,31.0 38.0,30.1 39.0,30.1 40.3,31.0 39.8,32.0 38.0,32.6 36.5,32.0Z M69.9,33.0 70.0,33.0 70.1,33.0 70.0,33.2Z M68.9,34.0 69.0,33.9 69.1,34.0 69.0,34.0Z M114.3,37.0 115.0,36.6 117.0,36.6 117.7,37.0 117.9,38.0 116.3,41.0 115.0,42.0 114.0,41.7 113.3,40.0Z"/>
<path fill="#f2a17f" fill-rule="evenodd" d="M26.9,-2.0 27.0,-2.0 30.5,-2.0 30.0,-1.1 29.0,-0.8 28.0,-1.1Z M138.9,-2.0 182.0,-2.0 182.0,28.3 179.1,27.0 178.4,26.0 178.0,23.6 177.0,22.4 169.9,21.0 168.3,20.0 167.0,17.8 164.0,16.2 160.0,15.5 155.0,15.5 150.0,15.0 144.0,16.3 142.0,15.7 138.0,11.0 137.2,9.0 137.3,8.0 140.0,1.0 139.9,0.0Z M83.7,20.0 85.0,19.5 86.0,20.0 86.4,21.0 85.2,22.0 84.0,21.9 83.4,21.0Z"/>
<path fill="#e17860" fill-rule="evenodd" d="M145.7,-1.0 147.0,-1.6 149.1,-2.0 155.1,-2.0 158.0,-0.9 158.2,-2.0 182.0,-2.0 182.0,17.7 173.0,17.8 167.0,14.4 161.0,12.3 154.0,12.9 147.7,12.0 143.0,8.0 143.4,3.0 144.7,0.0Z"/>
<path fill="#ce4f45" fill-rule="evenodd" d="M166.4,-2.0 180.3,-2.0 182.0,-1.6 182.0,10.0 179.0,11.8 177.0,12.1 168.8,11.0 166.7,10.0 167.0,9.4 170.0,8.0 166.7,4.0 166.9,3.0 169.0,1.0 167.0,-0.8Z M172.0,-0.0 169.3,1.0 172.3,3.0 174.0,3.5 176.8,3.0 178.2,2.0 177.4,1.0 175.0,-0.1 174.0,-0.3Z M148.8,3.0 151.0,2.0 154.0,2.5 160.3,6.0 161.9,8.0 160.6,9.0 156.0,10.1 153.0,10.0 149.1,8.0 148.1,7.0 147.8,5.0Z"/>
<rect x="230.0" y="-2" width="248.0" height="45.3" fill="#d5e7f1"/>
<path fill="#ecf2f5" fill-rule="evenodd" d="M230.0,-2.0 478.0,-2.0 478.0,44.0 273.5,44.0 272.0,41.7 270.0,41.0 268.0,42.0 266.7,44.0 230.0,44.0Z M312.0,31.9 309.7,33.0 308.6,34.0 308.2,35.0 308.6,37.0 310.0,38.3 311.0,38.5 316.0,36.7 317.2,36.0 317.8,35.0 317.7,34.0 316.5,33.0 314.0,32.0Z"/>
<path fill="#f9efe9" fill-rule="evenodd" d="M230.0,-2.0 478.0,-2.0 478.0,44.0 314.4,44.0 316.0,43.3 320.0,42.8 321.0,42.2 323.0,38.9 324.0,37.9 330.0,36.9 332.0,35.0 332.4,33.0 332.0,32.0 331.0,31.2 329.0,30.5 326.0,30.3 322.0,31.0 317.0,29.4 312.0,28.5 309.0,28.8 305.0,30.7 300.0,31.3 298.0,32.0 293.7,35.0 291.8,38.0 291.5,40.0 290.0,41.6 289.0,41.5 288.3,41.0 287.4,39.0 283.0,37.2 268.0,36.0 265.0,37.0 261.0,39.6 258.1,44.0 230.0,44.0Z M354.0,34.9 352.9,36.0 353.2,37.0 355.0,38.5 357.0,39.2 361.0,39.4 367.0,38.4 367.9,38.0 368.2,37.0 367.0,35.8 366.0,35.6 363.0,36.8 361.0,36.3 358.0,34.6 356.0,34.4Z M301.6,42.0 304.0,42.1 309.8,44.0 299.4,44.0Z"/>
<path fill="#fcdecd" fill-rule="evenodd" d="M232.9,-1.0 235.0,-1.2 243.0,0.3 245.0,-0.2 246.8,-2.0 249.2,-2.0 250.5,0.0 252.0,0.8 253.0,0.6 253.6,0.0 254.5,-2.0 478.0,-2.0 478.0,44.0 373.8,44.0 375.0,42.9 376.0,42.7 378.0,43.0 382.0,42.1 386.0,42.3 388.0,42.1 394.0,37.7 394.9,36.0 394.5,35.0 393.0,34.0 390.0,33.5 388.0,33.9 384.0,35.9 381.0,36.1 376.0,33.7 371.0,32.5 366.0,29.2 359.0,26.9 356.0,27.2 352.0,28.5 345.0,28.7 340.0,28.4 335.0,28.7 329.0,28.1 321.0,26.6 315.0,23.6 314.0,23.8 311.0,25.8 308.0,26.2 305.0,25.6 303.3,24.0 302.0,23.5 297.0,23.0 295.0,23.4 294.0,24.1 292.8,25.0 291.9,27.0 290.9,28.0 287.2,30.0 286.6,31.0 285.3,32.0 277.0,32.4 272.0,30.3 270.0,30.0 264.8,31.0 260.0,34.0 258.7,36.0 255.8,39.0 255.3,42.0 253.4,44.0 230.0,44.0 230.0,0.6Z M437.0,7.9 435.0,9.0 433.0,11.2 432.3,13.0 432.4,15.0 432.0,16.4 431.0,16.6 426.0,16.0 423.0,16.6 419.5,18.0 418.2,19.0 418.2,20.0 418.8,21.0 421.0,22.5 424.0,22.8 428.0,22.0 430.0,19.9 432.0,18.5 434.0,18.3 441.0,19.1 444.0,18.4 445.2,17.0 445.3,16.0 443.0,10.0 441.0,8.0 439.0,7.7Z M337.2,36.0 339.0,35.6 344.0,36.0 347.0,36.7 351.5,41.0 355.7,44.0 325.2,44.0 326.0,42.9 328.0,41.6 333.0,41.1 335.6,40.0 336.4,39.0 336.6,37.0Z"/>
<path fill="#f9c2a7" fill-rule="evenodd" d="M278.4,-2.0 478.0,-2.0 478.0,44.0 446.0,44.0 446.8,41.0 447.8,40.0 452.0,38.2 453.5,37.0 454.6,33.0 456.0,31.0 455.5,30.0 453.8,29.0 452.0,28.7 449.0,29.1 448.0,28.7 448.2,25.0 448.6,24.0 450.5,23.0 450.9,22.0 450.1,19.0 449.4,14.0 448.0,10.0 446.9,8.0 444.0,5.2 442.0,4.3 433.6,6.0 431.0,8.0 428.0,12.0 416.0,15.7 410.0,16.2 401.0,15.4 391.0,16.8 388.2,19.0 383.0,22.0 382.7,23.0 384.2,26.0 383.9,27.0 377.0,29.2 374.0,28.9 366.9,25.0 361.0,23.3 357.0,23.3 344.0,25.3 329.0,25.9 320.7,23.0 314.0,17.6 312.0,17.6 310.0,19.7 309.0,20.3 308.0,20.1 305.4,18.0 304.5,17.0 303.8,15.0 303.0,14.4 301.0,13.7 298.0,13.5 297.0,13.8 296.0,14.8 292.7,19.0 291.5,20.0 285.6,22.0 283.8,23.0 283.3,24.0 283.1,26.0 280.5,28.0 278.4,28.0 277.1,26.0 275.6,25.0 274.0,24.6 263.0,26.0 260.0,28.0 257.7,29.0 256.4,30.0 254.9,33.0 253.1,35.0 246.7,38.0 246.0,39.0 246.6,41.0 246.5,42.0 245.5,44.0 230.0,44.0 230.0,7.2 232.0,7.6 235.0,9.2 238.0,8.8 243.0,7.4 247.0,6.9 251.0,7.3 256.0,8.7 261.0,8.1 264.0,9.1 266.0,9.2 268.0,8.9 273.0,7.1 278.0,6.8 284.0,5.7 285.8,5.0 286.5,3.0 285.9,1.0 284.0,0.1 280.0,-0.6Z M405.5,21.0 408.0,20.7 415.0,22.2 421.0,25.4 426.0,26.6 428.0,27.7 432.2,31.0 434.4,34.0 434.3,36.0 431.9,40.0 431.0,41.0 425.8,42.0 424.0,44.0 420.7,44.0 421.2,41.0 420.0,40.3 406.0,38.3 401.0,36.9 400.0,36.1 398.0,33.6 394.1,31.0 391.2,28.0 391.0,27.0 391.6,26.0 393.0,25.2 397.0,24.2Z M440.4,39.0 441.0,38.6 441.5,39.0 441.0,39.3Z"/>
<path fill="#f2a17f" fill-rule="evenodd" d="M290.3,-2.0 478.0,-2.0 478.0,37.0 473.0,33.6 467.0,33.0 466.0,32.4 465.5,30.0 464.5,29.0 461.0,27.0 460.0,25.0 457.7,22.0 455.2,15.0 454.4,11.0 453.1,9.0 448.5,3.0 446.0,1.6 443.0,1.0 440.0,1.4 436.0,3.1 431.0,4.6 428.7,6.0 427.0,8.3 425.0,9.7 422.0,11.1 414.0,13.2 410.0,13.5 404.0,12.2 400.0,12.1 389.0,13.5 383.0,16.2 377.0,16.1 375.5,17.0 374.9,18.0 375.2,19.0 377.3,20.0 378.0,20.7 378.4,24.0 377.4,25.0 376.0,25.3 374.0,25.3 372.0,24.6 370.2,23.0 369.0,21.3 368.0,21.0 343.0,22.1 338.0,23.0 336.0,22.9 325.0,20.5 316.0,15.1 307.0,12.6 297.0,10.8 296.0,11.0 295.0,11.8 294.2,14.0 293.2,15.0 290.0,16.7 283.0,18.0 278.0,16.7 275.0,16.8 267.0,18.6 264.0,20.2 259.0,21.3 258.0,22.0 256.0,24.9 254.0,25.9 252.0,26.0 249.0,24.9 246.0,25.1 245.4,26.0 245.0,29.3 244.0,30.8 242.6,32.0 242.1,33.0 242.0,35.0 241.0,35.7 240.0,35.8 232.8,34.0 234.6,32.0 235.5,29.0 237.3,26.0 239.6,23.0 239.3,22.0 236.1,19.0 235.6,18.0 238.1,15.0 240.0,14.2 243.0,14.0 247.0,12.8 254.0,13.1 259.0,12.6 263.0,13.7 265.0,13.8 272.1,12.0 276.0,9.7 279.0,9.2 283.0,9.3 285.0,8.9 289.0,7.1 290.2,6.0 290.7,5.0 291.0,2.0Z M402.8,28.0 404.0,27.3 409.0,27.8 412.9,29.0 412.9,30.0 411.0,30.9 409.0,31.0 404.0,29.7Z M477.6,42.0 478.0,41.7 478.0,44.0 476.4,44.0 476.6,43.0Z"/>
<path fill="#e17860" fill-rule="evenodd" d="M294.1,-2.0 478.0,-2.0 478.0,21.8 475.0,21.1 473.0,18.7 471.9,18.0 468.0,18.0 464.0,18.8 462.0,18.5 461.1,17.0 463.2,14.0 458.2,7.0 457.2,5.0 451.0,1.0 443.0,-1.8 440.0,-1.5 436.0,1.0 431.0,2.2 425.0,4.4 420.0,4.0 415.0,5.4 410.0,5.3 406.0,7.9 404.0,8.7 398.0,8.0 393.6,10.0 382.0,12.3 380.0,12.1 377.0,10.9 375.0,11.0 373.1,12.0 371.5,14.0 370.0,15.1 363.4,18.0 359.5,19.0 356.0,19.6 350.0,19.5 338.0,20.6 336.0,20.4 332.0,19.1 326.0,17.8 316.0,12.6 312.0,11.0 306.4,10.0 303.0,8.0 298.0,7.8 297.6,7.0 298.4,4.0 298.3,3.0Z M289.7,11.0 290.2,11.0 290.0,11.8Z M247.3,17.0 249.0,16.3 250.0,16.3 251.6,17.0 252.6,18.0 252.8,23.0 252.0,23.5 251.0,23.2 246.1,21.0 245.3,20.0 245.2,19.0Z"/>
<path fill="#ce4f45" fill-rule="evenodd" d="M306.2,-2.0 307.0,-2.0 436.2,-2.0 434.0,-0.6 430.0,-0.1 426.0,1.1 416.0,1.6 405.0,3.3 399.0,3.6 393.3,5.0 389.4,7.0 388.0,7.3 386.0,7.4 384.0,6.5 377.0,7.3 368.4,11.0 362.0,15.2 360.0,16.0 343.0,18.3 337.0,17.8 332.0,16.4 326.0,15.5 322.2,14.0 315.7,9.0 311.5,5.0 307.8,3.0 306.9,2.0Z M448.9,-2.0 478.0,-2.0 478.0,12.3 469.0,11.0 468.0,10.5 466.6,9.0 466.2,7.0 465.4,6.0 463.0,4.4 459.0,0.6 456.0,-0.5 451.0,-1.3Z M471.0,-0.4 469.3,1.0 469.2,2.0 470.0,3.8 471.0,4.5 472.0,4.5 473.3,3.0 473.6,1.0 473.0,-0.3Z"/>
<path fill="#b82531" fill-rule="evenodd" d="M312.2,-2.0 313.0,-2.0 427.5,-2.0 419.0,-1.4 414.0,-1.8 409.7,0.0 406.0,0.9 396.0,1.1 390.0,2.7 385.0,2.3 383.0,2.6 379.0,4.7 374.0,5.7 370.1,8.0 363.5,10.0 360.9,12.0 359.0,12.9 343.0,16.1 339.0,15.6 324.0,11.9 322.0,10.2 318.6,6.0 313.0,1.0Z"/>
<path fill="#930e26" fill-rule="evenodd" d="M317.4,-2.0 318.0,-2.0 387.9,-2.0 385.0,-0.8 381.0,0.1 377.0,1.9 373.0,2.7 366.0,6.2 364.0,6.8 359.0,7.2 352.0,10.7 342.0,13.1 329.9,10.0 328.7,9.0 328.0,7.0 327.2,6.0 324.0,3.9 320.0,1.9 319.1,1.0Z M395.7,-2.0 396.0,-2.0 405.7,-2.0 401.0,-1.2 398.0,-1.4Z"/>
<path fill="#67001f" fill-rule="evenodd" d="M323.9,-2.0 324.0,-2.0 377.7,-2.0 370.0,-1.1 366.0,1.3 362.0,2.9 354.0,3.9 351.0,7.0 349.5,8.0 347.0,9.1 345.0,9.4 341.1,9.0 337.0,8.0 336.0,6.0 334.0,4.0 325.3,0.0 324.3,-1.0Z"/></g></g>
<g clip-path="url(#boxs)"><use href="#coast"/></g>
</g>
<g transform="translate(0,74.00)">
<g clip-path="url(#box)"><g clip-path="url(#land)"><rect x="12.0" y="-2" width="170.0" height="45.3" fill="#ecf2f5"/>
<path fill="#f9efe9" fill-rule="evenodd" d="M12.0,-2.0 182.0,-2.0 182.0,44.0 162.0,44.0 160.0,42.8 158.9,43.0 158.3,44.0 145.2,44.0 145.3,43.0 147.1,40.0 147.7,38.0 147.3,35.0 145.0,31.0 144.0,30.0 141.7,29.0 139.0,28.9 137.0,29.2 133.0,30.8 131.4,32.0 130.8,33.0 131.2,35.0 132.8,37.0 135.7,42.0 133.9,44.0 12.0,44.0Z"/>
<path fill="#fcdecd" fill-rule="evenodd" d="M12.0,-2.0 182.0,-2.0 182.0,44.0 169.9,44.0 169.8,42.0 168.8,40.0 167.0,38.7 162.2,37.0 159.3,35.0 158.4,33.0 157.5,32.0 155.0,31.0 151.0,30.2 147.4,27.0 146.0,26.3 138.0,25.8 136.0,26.0 133.0,27.1 127.5,32.0 125.3,39.0 125.3,40.0 126.9,44.0 12.0,44.0 12.0,40.6 15.5,40.0 17.3,39.0 16.0,38.5 12.0,35.7Z M103.0,27.7 101.1,29.0 100.1,31.0 100.3,32.0 102.0,33.6 104.0,33.9 107.0,33.1 108.5,32.0 110.0,30.0 109.3,29.0 107.0,27.7 105.0,27.4Z M108.0,7.8 107.1,8.0 106.4,9.0 107.0,9.7 109.0,10.4 110.1,10.0 110.5,9.0 110.0,8.2Z"/>
<path fill="#f9c2a7" fill-rule="evenodd" d="M12.0,-2.0 94.3,-2.0 93.9,0.0 95.3,2.0 95.0,2.4 93.0,3.6 89.3,4.0 88.0,4.6 87.1,6.0 87.5,7.0 89.0,8.4 93.2,9.0 96.0,13.3 101.0,14.2 102.7,15.0 102.9,18.0 103.7,20.0 103.5,21.0 102.7,23.0 99.7,25.0 97.4,28.0 95.1,30.0 94.6,31.0 93.4,38.0 92.5,39.0 88.0,41.5 87.0,41.8 85.4,41.0 85.7,39.0 84.6,37.0 84.5,35.0 83.0,33.8 81.0,33.9 80.0,34.7 79.6,37.0 76.5,40.0 75.0,40.3 74.0,40.1 74.0,38.8 76.5,37.0 76.0,35.7 75.0,35.0 74.0,34.9 71.0,36.3 70.0,36.5 68.2,36.0 71.1,34.0 71.5,33.0 71.0,31.0 69.0,31.3 67.0,32.4 62.3,37.0 60.0,37.9 57.0,38.1 53.0,37.4 48.0,38.1 47.0,36.8 47.6,36.0 50.7,34.0 51.0,33.0 49.0,32.2 42.0,33.9 33.0,33.6 32.0,33.0 32.1,31.0 31.1,29.0 29.0,27.5 26.0,26.0 26.8,24.0 26.0,23.4 22.0,22.8 21.0,22.0 20.7,20.0 19.9,18.0 20.0,16.0 19.0,14.6 16.0,13.2 15.0,13.3 14.3,14.0 12.0,14.8 12.0,12.4 13.8,12.0 13.3,11.0 12.0,10.6Z M127.7,-2.0 182.0,-2.0 182.0,37.6 181.2,37.0 175.0,35.5 173.0,34.7 170.1,32.0 168.6,29.0 167.0,28.1 162.4,27.0 161.4,26.0 161.0,24.5 160.0,24.2 156.1,25.0 153.0,26.2 152.0,26.0 151.0,25.0 150.0,23.1 149.0,22.9 142.0,23.3 135.0,22.7 129.0,23.6 126.0,24.7 124.0,24.0 122.0,22.0 125.5,15.0 125.4,14.0 124.0,11.5 120.2,9.0 118.4,3.0 119.0,1.4 120.0,0.9 121.1,1.0 122.8,3.0 124.0,3.6 126.4,3.0 127.2,2.0Z M119.5,29.0 121.0,29.1 121.3,30.0 120.3,32.0 120.8,36.0 120.5,38.0 117.0,44.0 112.5,44.0 108.9,39.0 108.7,37.0 109.2,36.0 111.0,34.4 116.2,32.0 118.0,29.6Z M181.7,39.0 182.0,38.7 182.0,40.9 180.7,40.0Z"/>
<path fill="#f2a17f" fill-rule="evenodd" d="M14.8,-2.0 15.0,-2.0 15.1,-2.0 15.0,-1.8Z M23.3,-2.0 33.0,-2.0 33.1,-1.0 32.0,-0.2 30.0,-0.2 25.1,-1.0Z M58.5,-2.0 59.0,-2.0 61.1,-2.0 60.0,-1.3Z M135.5,-1.0 136.5,-2.0 182.0,-2.0 182.0,30.4 179.3,29.0 177.4,27.0 174.6,25.0 168.0,22.0 164.0,18.0 163.0,17.6 161.0,17.8 157.0,20.0 155.0,19.5 152.4,18.0 150.0,17.5 148.0,17.9 144.0,19.8 141.0,20.1 138.0,19.7 134.6,18.0 133.0,15.8 129.4,13.0 128.8,10.0 127.3,8.0 127.2,7.0 131.5,4.0 133.4,1.0Z M74.1,2.0 75.0,1.9 75.1,2.0 75.0,2.1Z M71.1,6.0 73.0,5.3 76.1,7.0 76.6,8.0 74.9,11.0 77.0,12.6 79.0,13.2 83.0,12.4 84.0,12.5 89.0,14.4 90.6,16.0 90.6,17.0 89.0,18.1 85.3,19.0 84.0,19.8 83.7,20.0 83.8,22.0 74.0,22.4 73.0,22.2 72.0,21.0 71.0,17.0 70.3,16.0 68.1,15.0 62.7,14.0 61.3,13.0 60.8,11.0 61.3,10.0 63.0,9.2 67.0,10.4 69.7,10.0 69.7,8.0Z M114.9,37.0 115.0,36.8 115.2,37.0 115.0,37.1Z"/>
<path fill="#e17860" fill-rule="evenodd" d="M141.6,-1.0 142.4,-2.0 182.0,-2.0 182.0,17.9 180.0,18.2 176.0,20.0 174.0,20.1 172.0,19.2 171.1,18.0 170.0,17.3 163.0,14.5 153.0,15.2 141.0,14.8 140.0,14.3 139.4,13.0 139.8,9.0 139.1,4.0 139.9,1.0Z"/>
<path fill="#ce4f45" fill-rule="evenodd" d="M146.9,-1.0 147.7,-2.0 160.0,-2.0 162.0,-0.8 165.5,0.0 169.0,1.8 170.0,1.9 171.9,1.0 170.3,-1.0 170.0,-2.0 182.0,-2.0 182.0,3.7 180.7,4.0 180.0,4.6 179.0,7.4 175.6,9.0 175.0,10.0 176.0,11.0 176.3,12.0 175.1,13.0 174.0,13.4 170.0,13.7 165.0,12.1 162.0,11.9 153.0,13.1 149.0,13.1 145.7,12.0 144.4,11.0 144.0,10.0 143.8,5.0Z"/>
<path fill="#b82531" fill-rule="evenodd" d="M149.9,1.0 152.0,0.1 155.8,1.0 157.3,2.0 159.0,4.4 165.0,6.3 166.2,7.0 166.3,8.0 164.7,9.0 155.7,11.0 152.0,11.2 149.0,10.6 147.3,9.0 146.6,6.0 148.0,3.1Z"/>
<path fill="#930e26" fill-rule="evenodd" d="M150.8,5.0 152.0,4.2 153.0,4.2 154.0,4.7 155.7,7.0 155.7,8.0 154.0,8.8 151.2,8.0 150.4,7.0 150.2,6.0Z"/>
<rect x="230.0" y="-2" width="248.0" height="45.3" fill="#d5e7f1"/>
<path fill="#ecf2f5" fill-rule="evenodd" d="M230.0,-2.0 478.0,-2.0 478.0,44.0 274.6,44.0 273.7,43.0 272.0,42.5 270.0,42.8 268.1,44.0 230.0,44.0Z M311.0,31.5 309.2,33.0 308.8,34.0 309.4,36.0 312.0,38.1 314.0,38.3 315.0,37.8 316.6,36.0 317.2,35.0 317.1,34.0 316.0,32.6 314.0,31.5 312.0,31.2Z"/>
<path fill="#f9efe9" fill-rule="evenodd" d="M230.0,-2.0 478.0,-2.0 478.0,44.0 314.4,44.0 319.0,41.0 322.0,39.7 326.0,36.7 332.0,35.1 334.2,34.0 334.1,33.0 332.0,31.7 322.0,31.3 318.0,29.3 313.0,28.5 311.0,28.7 306.0,30.4 303.0,29.5 301.0,29.4 299.0,30.3 297.7,32.0 296.0,36.0 296.1,37.0 297.8,39.0 298.8,41.0 302.8,44.0 295.2,44.0 294.2,42.0 293.8,39.0 292.3,38.0 289.0,38.0 284.0,38.8 278.0,37.8 272.0,38.8 267.0,38.3 263.0,39.2 261.4,40.0 257.2,44.0 230.0,44.0Z M358.0,33.7 356.0,34.8 354.9,36.0 355.0,37.7 357.0,39.0 359.0,39.2 362.8,37.0 363.6,36.0 363.6,35.0 363.0,34.0 362.0,33.5 360.0,33.1Z"/>
<path fill="#fcdecd" fill-rule="evenodd" d="M230.0,-2.0 478.0,-2.0 478.0,44.0 385.5,44.0 383.0,41.5 381.0,40.8 380.0,41.2 379.2,42.0 379.1,44.0 374.2,44.0 374.7,42.0 374.0,40.0 374.3,39.0 376.1,37.0 376.3,36.0 375.6,35.0 368.0,31.4 364.0,29.0 362.0,28.7 357.0,30.0 353.0,30.3 349.0,32.4 342.0,32.4 340.0,31.9 336.0,29.5 328.0,28.3 326.0,27.6 322.0,25.1 315.0,23.8 311.0,25.3 308.0,25.8 304.0,24.6 301.0,24.5 296.0,25.7 290.1,28.0 288.6,29.0 287.4,31.0 285.0,32.1 282.0,32.6 277.0,32.3 273.0,33.4 268.0,33.7 261.0,37.2 253.0,44.0 230.0,44.0Z M437.0,9.9 434.5,11.0 432.6,13.0 431.9,16.0 433.0,18.0 434.0,18.2 438.0,17.0 440.4,17.0 442.0,17.5 443.0,16.9 443.6,16.0 443.7,15.0 441.4,11.0 440.0,10.0Z M342.4,37.0 345.0,36.7 347.0,37.2 347.7,38.0 347.5,40.0 348.0,41.2 353.0,42.4 355.2,44.0 323.4,44.0 325.0,42.3 327.6,41.0 332.0,40.2 338.0,37.9Z"/>
<path fill="#f9c2a7" fill-rule="evenodd" d="M230.0,-2.0 231.0,-2.0 236.4,-2.0 235.0,-0.9 233.0,-0.6 231.4,-1.0Z M248.9,-2.0 478.0,-2.0 478.0,44.0 419.3,44.0 416.7,42.0 412.0,40.5 409.0,40.1 403.0,40.6 399.0,39.9 397.0,38.9 395.5,35.0 393.5,33.0 391.0,32.6 384.0,33.8 380.0,33.2 374.0,31.2 369.5,28.0 366.0,26.0 363.2,25.0 353.0,26.1 349.8,27.0 346.0,28.7 344.0,28.9 339.0,27.0 329.0,25.7 319.4,21.0 317.0,20.2 314.0,19.9 308.0,21.3 305.2,21.0 303.4,20.0 301.7,18.0 298.0,16.6 296.5,17.0 293.0,20.6 285.4,26.0 283.0,27.2 281.0,27.3 278.0,26.6 271.0,29.5 266.0,28.9 264.0,29.2 261.8,32.0 258.7,34.0 256.9,37.0 256.0,37.8 254.0,38.6 250.6,39.0 248.9,40.0 248.6,41.0 249.6,44.0 230.0,44.0 230.0,12.1 231.2,11.0 230.9,10.0 230.0,9.4 230.0,2.0 237.0,2.2 244.0,1.8 245.4,2.0 248.0,3.4 249.0,3.3 250.0,2.0 248.4,0.0Z M395.0,17.8 393.3,19.0 392.9,20.0 394.0,21.0 401.0,21.6 402.3,21.0 403.2,20.0 402.8,19.0 400.0,17.9 397.0,17.4Z M438.0,7.0 435.0,7.8 433.0,9.0 423.0,18.0 421.0,18.9 415.0,20.0 415.6,21.0 418.0,22.5 423.0,23.7 435.0,27.9 437.0,27.9 442.0,26.2 446.0,25.9 447.0,25.3 447.9,24.0 447.3,21.0 448.2,16.0 446.3,11.0 444.9,9.0 443.0,7.4 441.0,6.9Z M440.0,37.8 439.1,39.0 441.0,39.8 443.0,39.0 443.7,38.0 443.0,37.2 442.0,37.1Z M445.0,28.5 444.5,29.0 445.0,30.0 445.5,29.0Z M332.7,44.0 333.0,44.0 333.1,44.0 333.0,44.0Z"/>
<path fill="#f2a17f" fill-rule="evenodd" d="M282.5,-2.0 478.0,-2.0 478.0,44.0 460.7,44.0 459.0,42.4 458.4,41.0 458.8,39.0 463.0,37.1 463.5,36.0 463.2,35.0 461.6,33.0 462.7,30.0 462.6,29.0 461.5,28.0 457.0,26.5 455.4,25.0 455.3,22.0 453.1,21.0 452.6,20.0 453.8,18.0 454.0,17.0 453.4,16.0 451.0,14.2 450.1,13.0 449.5,9.0 448.0,5.7 446.0,4.7 440.0,4.3 437.0,4.7 434.0,5.8 425.0,12.2 417.0,14.9 409.0,15.3 397.0,14.6 393.0,15.3 390.0,16.6 387.0,19.2 379.0,23.5 375.0,25.0 373.0,25.4 371.0,24.9 366.0,22.5 363.0,22.1 356.0,22.1 350.0,23.7 347.0,24.0 341.0,23.2 332.0,22.9 313.0,15.8 311.0,15.6 307.0,16.1 299.0,13.7 297.0,13.6 292.0,17.6 289.0,18.8 277.0,18.2 271.0,20.4 261.7,22.0 260.1,23.0 259.3,24.0 256.3,30.0 255.0,30.4 252.0,30.3 249.8,31.0 248.6,32.0 248.6,33.0 249.2,34.0 248.9,35.0 245.0,37.0 242.0,39.3 241.0,39.7 238.0,40.0 236.6,41.0 236.2,42.0 237.0,42.7 240.0,42.1 242.0,42.2 243.6,43.0 244.5,44.0 230.0,44.0 230.0,38.0 230.5,37.0 230.0,36.8 230.0,22.4 235.0,20.4 236.4,19.0 237.4,17.0 240.9,15.0 241.6,14.0 241.6,12.0 243.0,10.2 245.0,9.2 247.0,9.1 252.0,9.7 257.0,11.0 259.0,11.1 261.0,10.7 263.6,9.0 265.0,8.6 270.0,9.0 273.0,8.5 280.0,5.9 283.6,5.0 286.0,3.2 286.0,1.7 285.0,1.2 281.6,1.0 281.4,0.0Z M410.7,25.0 413.0,24.6 418.0,25.7 421.0,27.5 425.4,29.0 426.2,30.0 427.0,33.0 429.2,35.0 428.0,35.8 425.0,36.0 417.0,38.1 407.8,37.0 404.0,35.6 403.0,34.8 399.8,31.0 397.5,27.0 398.5,26.0 401.0,25.2 403.0,25.1 408.0,26.1Z"/>
<path fill="#e17860" fill-rule="evenodd" d="M288.2,-2.0 478.0,-2.0 478.0,28.3 476.0,28.2 472.0,29.1 470.6,28.0 467.0,26.4 462.7,24.0 461.5,22.0 460.4,18.0 458.0,14.1 455.0,12.0 454.3,11.0 452.6,5.0 451.0,3.0 448.0,1.7 445.0,1.7 440.0,2.4 434.2,4.0 428.4,7.0 425.0,8.2 422.0,10.4 420.0,11.2 415.0,11.4 412.0,12.0 410.4,11.0 410.0,9.7 409.0,9.0 408.0,9.0 403.0,11.6 397.0,11.6 392.0,12.5 387.0,12.3 379.0,13.5 377.0,14.5 373.7,17.0 373.0,18.0 372.9,19.0 373.6,20.0 373.0,20.8 370.4,19.0 366.0,18.3 359.0,18.8 353.0,20.3 345.0,20.7 334.0,20.2 323.0,17.3 312.0,12.5 306.0,11.2 302.0,11.6 296.0,11.2 293.4,14.0 292.0,14.4 290.0,14.1 288.0,12.7 286.0,12.0 284.1,13.0 282.8,15.0 281.0,15.4 279.6,15.0 278.6,14.0 278.6,13.0 280.0,11.1 282.0,10.0 288.0,8.4 290.0,7.0 290.6,1.0 290.2,0.0Z M249.1,14.0 252.0,13.4 261.0,15.1 265.0,14.5 270.0,13.0 273.0,13.8 273.7,15.0 272.0,16.5 269.0,17.7 264.0,17.3 256.0,18.6 254.2,20.0 253.8,23.0 253.0,23.8 252.0,24.1 248.0,23.6 245.2,24.0 242.0,26.3 241.6,25.0 242.0,24.0 241.3,21.0 241.8,19.0Z M239.1,30.0 241.0,29.8 241.7,31.0 241.2,32.0 240.0,32.9 237.6,33.0 235.8,32.0 236.4,31.0Z M414.8,30.0 417.0,30.0 418.3,31.0 418.3,32.0 417.0,32.6 415.1,32.0 414.3,31.0Z M477.4,34.0 478.0,33.6 478.0,37.7 476.5,37.0 475.7,36.0 476.0,35.0Z"/>
<path fill="#ce4f45" fill-rule="evenodd" d="M300.6,-2.0 478.0,-2.0 478.0,22.0 470.4,21.0 469.4,20.0 469.3,17.0 467.8,16.0 464.0,14.8 463.2,14.0 462.5,11.0 461.5,10.0 457.8,8.0 456.6,5.0 454.1,1.0 452.5,0.0 450.0,-0.5 443.0,-1.1 434.0,2.6 427.0,4.4 420.0,4.3 416.0,5.4 411.0,5.5 399.0,7.5 386.0,8.4 383.0,9.1 379.0,9.0 375.0,9.5 371.5,11.0 368.0,13.8 364.0,14.5 358.0,16.7 354.0,17.8 342.0,17.7 337.0,18.1 334.0,17.7 326.0,15.4 323.0,13.4 319.0,11.4 316.1,9.0 315.0,8.6 302.3,7.0 302.0,6.0 302.5,4.0 300.1,1.0 300.0,0.0Z"/>
<path fill="#b82531" fill-rule="evenodd" d="M306.8,-2.0 307.0,-2.0 438.5,-2.0 435.0,0.4 433.0,1.2 427.0,0.7 416.6,1.0 410.0,1.6 405.0,3.3 401.0,2.8 397.0,3.0 389.0,5.2 376.0,5.6 365.0,9.9 362.0,12.3 356.5,15.0 354.0,15.5 347.0,15.7 334.0,14.6 327.0,12.6 322.3,10.0 318.8,7.0 310.0,4.0 309.9,3.0 310.9,1.0 310.0,-0.1Z M457.6,-2.0 478.0,-2.0 478.0,-0.0 474.0,0.0 471.3,1.0 470.1,3.0 470.0,4.1 470.6,6.0 469.6,7.0 468.0,7.1 465.0,5.8 461.6,1.0 459.5,-1.0Z M468.4,11.0 469.0,10.7 469.5,11.0 469.4,12.0 468.7,12.0Z"/>
<path fill="#930e26" fill-rule="evenodd" d="M313.3,-2.0 314.0,-2.0 412.0,-2.0 407.0,-0.9 401.0,-1.3 389.0,1.0 385.0,1.2 371.0,3.1 367.0,5.5 362.0,6.3 360.9,7.0 359.0,10.2 352.0,12.5 350.0,12.8 345.0,11.4 340.0,12.4 338.0,12.3 334.0,10.5 330.0,9.9 327.2,9.0 324.0,6.5 321.7,3.0 315.0,-0.3Z M413.8,-2.0 414.0,-2.0 416.5,-2.0 415.0,-1.9Z M432.0,-2.0 432.0,-2.0 432.1,-2.0 432.0,-2.0Z"/>
<path fill="#67001f" fill-rule="evenodd" d="M325.3,-2.0 326.0,-2.0 363.8,-2.0 361.0,-0.7 356.0,2.6 353.0,5.8 352.0,6.4 348.0,6.6 342.0,7.8 339.0,7.1 334.5,5.0 333.9,4.0 333.8,2.0 333.0,0.8 328.0,0.0Z M367.6,-2.0 368.0,-2.0 388.1,-2.0 379.0,-0.6 375.0,-1.4 371.0,-1.0Z"/></g></g>
<g clip-path="url(#boxs)"><use href="#coast"/></g>
</g>
<g transform="translate(0,156.40)">
<g clip-path="url(#box)"><g clip-path="url(#land)"><rect x="12.0" y="-2" width="170.0" height="45.3" fill="#8dc2dc"/>
<path fill="#b3d6e8" fill-rule="evenodd" d="M12.0,-2.0 182.0,-2.0 182.0,44.0 111.0,44.0 108.0,43.4 106.0,44.0 12.0,44.0Z"/>
<path fill="#d5e7f1" fill-rule="evenodd" d="M12.0,-2.0 72.5,-2.0 74.0,-1.2 76.7,-2.0 182.0,-2.0 182.0,44.0 122.6,44.0 122.7,41.0 122.0,37.0 121.0,36.0 119.0,35.2 116.7,36.0 115.9,37.0 115.0,39.8 114.0,40.5 112.0,40.6 110.0,38.7 108.0,38.1 103.0,41.9 101.5,44.0 12.0,44.0Z"/>
<path fill="#ecf2f5" fill-rule="evenodd" d="M13.7,-1.0 14.7,-2.0 59.6,-2.0 65.5,0.0 70.0,3.2 73.0,4.0 75.0,3.3 79.0,0.7 85.6,-2.0 182.0,-2.0 182.0,44.0 174.6,44.0 174.6,43.0 177.8,41.0 177.9,40.0 175.3,37.0 174.6,35.0 171.0,34.0 166.0,33.7 165.1,33.0 164.4,31.0 163.3,30.0 162.0,29.8 158.0,30.2 154.0,27.3 152.0,27.3 146.0,28.3 141.0,26.7 139.0,27.1 135.3,29.0 131.9,32.0 125.0,33.8 119.0,32.4 118.0,32.7 113.0,36.8 112.0,37.0 109.0,36.7 107.0,37.2 102.0,40.3 99.4,44.0 12.0,44.0 12.0,0.1Z M134.6,41.0 137.0,40.9 141.9,44.0 134.5,44.0 133.3,42.0Z"/>
<path fill="#f9efe9" fill-rule="evenodd" d="M29.6,-1.0 30.9,-2.0 43.4,-2.0 43.7,0.0 44.5,1.0 46.0,1.7 48.0,1.8 53.0,0.4 59.0,1.3 62.0,2.6 63.8,5.0 65.1,6.0 68.0,7.2 71.0,7.7 74.0,6.9 80.0,3.1 89.0,-0.3 91.0,-0.7 98.0,-0.7 102.5,-2.0 106.6,-2.0 112.0,-0.0 114.0,-0.3 117.0,-1.4 122.0,-1.2 124.1,-2.0 182.0,-2.0 182.0,26.2 173.0,26.5 171.3,26.0 169.0,24.5 165.0,23.5 160.0,21.2 153.0,19.8 150.0,18.6 148.7,19.0 148.8,21.0 148.0,21.5 142.0,22.0 139.0,22.8 135.4,26.0 126.0,30.6 123.0,31.3 118.0,30.5 114.0,34.5 112.0,35.2 108.0,35.6 101.9,39.0 97.5,44.0 26.3,44.0 25.8,42.0 26.0,40.0 25.0,39.8 20.9,44.0 12.0,44.0 12.3,38.0 12.0,37.8 12.0,34.2 14.0,34.4 17.2,36.0 18.0,36.8 19.0,36.8 21.0,35.0 21.8,33.0 21.3,32.0 20.0,31.3 15.0,30.5 12.0,29.5 12.0,16.9 16.1,16.0 20.9,12.0 21.5,11.0 19.0,7.0 18.8,5.0 19.2,4.0 21.0,3.1 24.0,2.7 26.7,0.0Z M17.0,37.8 16.4,39.0 17.0,39.3 19.0,39.5 20.0,39.0 19.0,37.2 18.0,37.1Z"/>
<path fill="#fcdecd" fill-rule="evenodd" d="M144.0,-2.0 173.9,-2.0 174.0,-1.0 172.8,1.0 172.6,3.0 173.5,4.0 176.0,5.6 180.4,7.0 178.7,8.0 179.1,9.0 180.6,10.0 182.0,10.4 182.0,16.0 178.0,15.5 170.0,16.0 168.2,17.0 167.3,19.0 166.0,19.4 156.0,17.0 154.0,16.3 148.6,13.0 147.9,12.0 148.3,9.0 148.0,8.3 144.5,6.0 142.6,4.0 142.5,3.0 144.7,1.0 144.8,0.0Z M87.6,3.0 91.0,2.3 105.0,2.7 107.4,3.0 111.0,4.4 115.0,5.3 117.1,8.0 120.0,10.0 120.9,11.0 121.7,13.0 123.0,20.3 126.3,25.0 126.7,26.0 126.4,27.0 125.5,28.0 123.0,29.2 121.0,29.5 118.0,29.1 117.0,29.4 114.0,33.3 107.0,34.7 101.0,38.4 95.2,44.0 79.1,44.0 77.0,43.6 74.3,44.0 43.2,44.0 41.8,42.0 41.9,41.0 43.0,40.1 50.0,39.0 52.6,37.0 53.0,36.0 52.6,34.0 53.9,31.0 53.9,30.0 51.9,27.0 50.7,26.0 44.0,24.3 40.7,22.0 38.8,17.0 39.7,16.0 42.5,15.0 42.8,14.0 42.0,12.7 41.0,11.7 38.0,10.2 33.0,10.5 32.5,10.0 32.6,9.0 35.0,7.9 40.0,7.6 49.0,9.6 55.0,14.0 63.0,14.6 67.0,14.4 69.0,14.0 72.0,12.2 78.0,6.5Z M31.9,44.0 33.0,43.9 33.4,44.0 33.0,44.0Z"/>
<path fill="#f9c2a7" fill-rule="evenodd" d="M157.4,5.0 159.0,4.1 160.0,4.4 162.0,6.1 163.5,10.0 165.4,13.0 164.0,14.1 160.0,14.9 157.0,14.8 155.0,13.8 153.5,12.0 153.0,9.0 154.0,7.4Z M88.6,6.0 93.0,5.4 104.0,5.6 114.0,11.0 115.2,12.0 116.2,15.0 118.3,18.0 118.7,21.0 120.0,25.0 119.9,26.0 118.0,26.6 116.0,27.8 113.0,32.2 107.0,33.2 103.4,36.0 100.0,37.9 98.0,39.9 95.0,41.9 92.0,43.3 89.0,43.7 87.0,43.4 82.0,41.4 77.0,40.0 71.0,36.6 66.0,35.1 64.6,34.0 62.6,31.0 64.9,28.0 65.7,26.0 63.7,24.0 62.6,22.0 62.5,21.0 63.2,20.0 67.0,18.0 72.0,16.6 78.0,11.0 79.0,9.0 80.0,8.4 85.0,7.5Z"/>
<path fill="#f2a17f" fill-rule="evenodd" d="M96.9,10.0 99.0,9.7 101.1,10.0 102.0,10.9 103.1,13.0 103.0,16.1 105.0,17.0 109.0,17.1 111.9,19.0 114.3,24.0 111.9,30.0 110.0,30.9 107.0,30.9 105.0,31.4 104.0,32.1 102.0,34.6 100.0,35.8 96.7,39.0 92.0,40.9 89.0,40.2 86.0,37.3 82.0,35.0 76.0,33.5 72.8,32.0 71.6,31.0 71.3,30.0 71.9,27.0 74.2,24.0 75.4,21.0 78.1,18.0 78.9,15.0 79.7,14.0 82.0,12.7 87.0,12.2Z"/>
<path fill="#e17860" fill-rule="evenodd" d="M87.5,15.0 91.0,14.5 94.0,15.1 104.0,21.0 103.8,23.0 104.7,26.0 104.5,27.0 103.5,28.0 98.2,31.0 95.2,35.0 92.0,37.1 91.0,37.4 89.0,36.4 84.0,32.4 81.1,31.0 79.7,28.0 79.9,23.0 82.0,18.6 84.0,16.4Z"/>
<path fill="#ce4f45" fill-rule="evenodd" d="M87.2,19.0 89.0,19.0 91.0,19.7 94.0,21.5 95.8,23.0 95.8,24.0 93.8,28.0 91.0,29.7 89.0,30.0 86.0,29.7 84.7,29.0 83.9,28.0 83.1,25.0 83.1,23.0 85.0,20.2Z"/>
<rect x="230.0" y="-2" width="248.0" height="45.3" fill="#8dc2dc"/>
<path fill="#b3d6e8" fill-rule="evenodd" d="M230.0,-2.0 478.0,-2.0 478.0,44.0 230.0,44.0Z M287.0,3.8 282.0,4.7 279.9,6.0 279.6,7.0 281.2,10.0 281.4,12.0 282.3,13.0 288.0,16.1 290.0,16.5 299.0,15.3 301.2,14.0 302.0,12.0 301.9,10.0 298.4,5.0 290.0,3.2Z"/>
<path fill="#d5e7f1" fill-rule="evenodd" d="M230.0,-2.0 282.2,-2.0 280.9,0.0 279.0,1.3 269.0,4.3 262.0,5.2 260.2,7.0 259.9,8.0 260.0,10.1 255.8,12.0 255.5,13.0 255.6,15.0 254.2,18.0 253.1,19.0 250.0,20.5 248.9,22.0 249.0,23.0 250.0,24.6 253.0,25.1 254.0,25.8 254.3,27.0 258.0,29.6 260.0,32.0 262.4,34.0 262.6,36.0 263.8,39.0 263.1,42.0 264.5,44.0 230.0,44.0Z M294.4,-2.0 413.6,-2.0 423.0,-1.1 429.1,-2.0 478.0,-2.0 478.0,44.0 294.7,44.0 296.7,42.0 297.0,41.2 296.6,38.0 297.3,35.0 299.0,33.4 302.0,31.7 307.1,28.0 307.5,27.0 307.0,25.9 305.0,24.4 304.0,24.2 302.0,24.5 300.0,25.9 295.9,25.0 295.1,24.0 301.5,21.0 306.0,20.0 306.6,19.0 307.1,14.0 308.5,10.0 309.1,7.0 308.2,5.0 302.0,-1.2 300.0,-1.7 296.0,-1.5Z"/>
<path fill="#ecf2f5" fill-rule="evenodd" d="M230.0,-2.0 231.0,-2.0 258.4,-2.0 257.1,0.0 255.0,0.5 253.0,0.3 248.0,-1.5 247.0,-1.1 244.0,1.7 240.0,4.2 230.0,7.6Z M265.5,-2.0 266.0,-2.0 268.7,-2.0 267.0,-1.4Z M307.9,-2.0 387.6,-2.0 390.0,-1.1 392.0,-0.8 396.0,-0.8 402.0,-1.6 421.0,0.7 434.0,-0.8 441.0,-1.0 445.1,-2.0 478.0,-2.0 478.0,44.0 357.3,44.0 356.8,41.0 357.3,37.0 357.0,36.6 356.0,36.5 355.0,37.4 351.9,44.0 301.1,44.0 301.2,42.0 300.6,39.0 301.0,37.1 305.4,34.0 307.6,31.0 310.7,28.0 311.4,26.0 309.9,23.0 309.8,22.0 311.1,19.0 312.0,13.0 311.9,10.0 313.2,7.0Z M230.0,10.0 230.0,9.4 234.2,11.0 235.0,11.7 235.1,13.0 234.0,14.7 230.0,15.4Z M230.0,24.0 230.0,23.5 234.0,24.8 234.2,26.0 233.7,28.0 234.0,30.0 239.0,33.9 243.0,34.3 244.6,34.0 247.0,32.8 248.0,33.0 250.0,34.2 251.8,36.0 252.8,41.0 256.1,44.0 230.0,44.0Z"/>
<path fill="#f9efe9" fill-rule="evenodd" d="M312.0,-2.0 375.6,-2.0 378.0,-0.0 380.0,0.5 385.0,-0.0 390.0,1.1 396.0,1.6 403.0,0.5 413.0,2.0 421.0,2.6 428.0,2.0 433.0,2.1 440.0,3.3 444.0,2.5 450.0,-0.8 452.0,-1.4 456.2,-2.0 478.0,-2.0 478.0,44.0 361.0,44.0 359.8,41.0 360.5,36.0 360.0,34.0 359.0,32.6 357.0,32.0 355.0,32.7 354.0,33.6 351.0,40.3 347.6,44.0 308.4,44.0 305.6,41.0 305.2,40.0 305.6,39.0 311.0,30.8 316.0,26.6 321.2,25.0 322.6,24.0 323.6,22.0 323.3,21.0 321.4,19.0 321.8,18.0 323.9,16.0 324.2,15.0 324.0,13.9 323.0,12.3 320.6,11.0 321.0,7.6 320.6,7.0 317.0,5.6 315.0,4.0Z M398.0,22.7 396.0,23.9 393.0,24.1 391.0,24.7 389.9,26.0 389.7,27.0 390.0,28.0 392.3,30.0 391.8,32.0 392.0,33.0 393.8,36.0 400.3,38.0 402.0,37.9 403.1,37.0 405.4,33.0 408.0,31.5 409.5,30.0 410.1,28.0 409.2,26.0 406.0,22.9 401.0,22.0 399.0,22.2Z M392.0,39.9 391.2,40.0 392.0,40.9 392.3,40.0Z M230.0,33.0 230.0,32.3 232.0,33.6 233.7,36.0 235.6,37.0 244.1,39.0 246.0,39.8 247.0,40.8 248.9,44.0 230.0,44.0Z"/>
<path fill="#fcdecd" fill-rule="evenodd" d="M316.5,-2.0 371.0,-2.0 372.2,1.0 373.4,2.0 375.0,2.6 378.0,3.0 383.0,2.0 385.0,1.9 394.0,5.3 397.0,5.1 402.5,3.0 404.0,2.8 412.0,4.2 422.0,4.6 433.0,4.1 435.0,4.6 438.0,6.1 446.0,6.3 449.0,6.7 451.0,6.4 457.0,4.0 458.1,3.0 458.2,1.0 461.6,-2.0 478.0,-2.0 478.0,44.0 422.0,44.0 422.7,42.0 426.0,39.0 428.3,34.0 428.1,33.0 425.5,29.0 423.5,27.0 422.0,26.0 418.0,25.6 416.0,25.0 412.5,22.0 407.0,18.3 405.0,17.4 401.0,16.6 397.0,17.3 395.0,17.3 389.0,15.9 387.0,16.0 383.0,17.5 382.1,18.0 380.6,20.0 376.2,23.0 373.7,28.0 374.3,31.0 373.0,32.2 370.0,32.8 366.0,32.8 360.0,30.0 356.0,29.6 354.0,30.5 352.0,32.2 350.9,34.0 349.5,38.0 346.0,41.1 344.0,41.7 342.1,41.0 342.8,39.0 342.0,38.0 341.0,38.2 339.3,40.0 335.0,42.0 333.2,44.0 328.0,44.0 325.0,38.3 324.0,37.2 322.0,37.0 314.0,39.5 312.1,39.0 311.3,38.0 311.2,37.0 311.8,35.0 313.1,33.0 314.2,32.0 316.0,31.6 319.0,31.9 322.0,32.6 325.0,34.2 326.0,34.1 328.2,33.0 329.3,31.0 333.0,29.0 332.7,28.0 331.0,26.0 330.8,25.0 331.0,23.0 330.4,21.0 331.0,17.0 330.5,14.0 331.0,11.0 330.6,10.0 327.4,7.0 326.7,4.0 325.0,2.2 324.0,1.9 321.0,2.3 320.1,2.0 319.5,1.0 317.1,-1.0Z M366.7,36.0 370.0,36.0 369.8,37.0 368.7,38.0 367.0,41.7 366.0,42.2 364.0,41.8 362.9,41.0 362.6,40.0 363.0,39.0Z M230.0,39.0 237.0,40.1 241.0,42.6 244.5,44.0 230.0,44.0Z M407.9,39.0 409.0,38.1 410.0,38.0 410.9,39.0 410.1,41.0 410.5,42.0 412.9,44.0 402.5,44.0 403.1,43.0 407.4,40.0Z"/>
<path fill="#f9c2a7" fill-rule="evenodd" d="M328.3,-2.0 366.7,-2.0 369.0,3.6 370.3,5.0 380.0,6.8 382.0,6.3 383.0,4.8 384.0,4.5 384.8,5.0 385.1,7.0 386.6,10.0 386.5,11.0 385.8,12.0 382.8,14.0 372.0,18.1 370.3,20.0 370.0,21.0 370.1,22.0 371.3,25.0 370.7,26.0 368.0,28.5 366.0,28.8 363.0,28.0 356.0,24.4 352.5,23.0 350.0,22.5 348.0,23.0 347.9,24.0 351.6,26.0 351.9,27.0 351.3,28.0 350.0,28.6 348.0,28.7 344.0,26.2 340.5,25.0 339.3,23.0 336.7,21.0 336.0,18.0 334.5,15.0 334.9,12.0 334.8,8.0 334.3,7.0 331.0,4.0Z M466.9,-2.0 478.0,-2.0 478.0,44.0 434.0,44.0 434.7,42.0 435.0,39.6 437.8,38.0 437.0,36.9 434.5,36.0 435.0,34.0 434.8,31.0 430.6,27.0 425.0,24.0 419.0,23.2 416.7,22.0 413.3,19.0 411.0,14.1 410.1,13.0 406.8,11.0 406.4,10.0 407.8,9.0 417.0,7.2 431.0,5.9 433.0,6.1 437.0,8.1 442.0,9.1 449.0,11.5 451.0,11.7 455.0,11.0 459.0,11.1 461.2,10.0 462.9,8.0 463.3,7.0 463.3,4.0 465.5,1.0Z M230.0,44.0 230.0,43.9 230.2,44.0Z"/>
<path fill="#f2a17f" fill-rule="evenodd" d="M333.8,-2.0 361.3,-2.0 364.0,1.0 364.4,2.0 364.0,4.7 363.0,5.8 357.1,7.0 361.4,11.0 362.0,12.0 361.5,13.0 353.0,15.5 347.0,15.7 341.0,14.6 339.3,13.0 338.7,11.0 338.9,10.0 341.2,7.0 341.2,5.0 340.0,3.1 339.0,2.4 335.0,0.5Z M477.5,2.0 478.0,1.8 478.0,4.6 476.6,4.0 475.9,3.0Z M476.7,9.0 478.0,8.7 478.0,44.0 452.6,44.0 455.8,42.0 455.1,41.0 450.0,37.2 447.8,33.0 443.0,31.5 440.5,29.0 440.4,28.0 440.8,27.0 444.1,23.0 444.2,22.0 443.6,21.0 442.0,20.3 437.0,20.0 436.1,21.0 436.7,23.0 435.0,23.6 434.0,23.5 432.0,22.8 425.4,19.0 424.3,18.0 423.8,17.0 423.7,14.0 429.0,9.6 431.0,9.4 438.0,10.5 440.0,11.0 441.8,12.0 444.0,15.0 448.0,17.0 451.0,22.1 452.6,23.0 454.0,23.2 455.1,23.0 456.6,21.0 459.0,19.9 462.0,20.0 466.0,21.3 468.0,21.0 470.2,20.0 470.5,19.0 468.2,18.0 472.0,14.9 472.5,13.0 472.4,11.0 473.0,10.0Z M456.0,25.8 454.2,27.0 453.6,28.0 453.5,29.0 454.0,29.5 458.0,30.8 462.0,30.5 463.1,30.0 462.0,28.6 459.0,26.5 457.0,25.7Z M447.4,40.0 448.0,39.7 448.3,40.0 448.3,42.0 449.0,44.0 444.2,44.0 446.0,41.2Z"/>
<path fill="#e17860" fill-rule="evenodd" d="M342.3,-2.0 355.1,-2.0 356.2,0.0 355.3,1.0 351.0,1.7 347.0,3.4 345.0,3.7 343.1,2.0 342.4,0.0Z M477.7,22.0 478.0,21.9 478.0,26.3 475.8,24.0 476.0,23.0Z M477.4,28.0 478.0,27.2 478.0,44.0 473.8,44.0 472.7,40.0 473.6,38.0 476.2,35.0 476.6,33.0 476.2,30.0Z"/>
<path fill="#ce4f45" fill-rule="evenodd" d="M346.3,-2.0 348.6,-2.0 348.5,-1.0 347.0,-0.2 346.3,-1.0Z"/></g></g>
<g clip-path="url(#boxs)"><use href="#coast"/></g>
</g>
<g transform="translate(0,209.35)">
<g clip-path="url(#box)"><g clip-path="url(#land)"><rect x="12.0" y="-2" width="170.0" height="45.3" fill="#8dc2dc"/>
<path fill="#b3d6e8" fill-rule="evenodd" d="M12.0,-2.0 182.0,-2.0 182.0,44.0 12.1,44.0Z"/>
<path fill="#d5e7f1" fill-rule="evenodd" d="M12.0,-2.0 182.0,-2.0 182.0,44.0 117.8,44.0 116.0,43.2 113.0,42.6 112.0,41.8 110.5,39.0 109.0,38.2 108.0,38.2 105.0,40.7 103.0,41.4 100.7,44.0 20.8,44.0 12.0,38.9 12.0,29.2 12.6,28.0 12.0,26.8Z"/>
<path fill="#ecf2f5" fill-rule="evenodd" d="M12.0,-2.0 182.0,-2.0 182.0,43.5 179.0,42.0 178.0,41.0 176.3,38.0 175.0,37.1 173.0,36.5 169.0,36.6 166.1,36.0 163.5,34.0 158.0,31.1 155.0,30.5 149.0,33.0 147.9,35.0 146.9,36.0 143.3,37.0 142.7,39.0 140.1,41.0 140.2,42.0 141.3,44.0 131.5,44.0 129.0,42.3 124.0,41.3 123.7,41.0 123.9,40.0 124.9,39.0 125.2,38.0 124.7,37.0 120.2,34.0 119.0,33.6 118.0,33.9 115.8,36.0 114.0,36.9 109.0,36.7 107.0,37.2 105.0,38.6 101.7,40.0 98.6,44.0 32.6,44.0 31.4,42.0 30.0,40.8 22.0,40.0 20.2,39.0 19.5,38.0 19.3,36.0 18.3,34.0 19.7,30.0 19.7,25.0 19.3,24.0 17.1,22.0 13.1,17.0 12.8,16.0 13.5,13.0 12.0,11.9Z"/>
<path fill="#f9efe9" fill-rule="evenodd" d="M17.9,-1.0 18.1,-2.0 62.6,-2.0 64.6,1.0 68.0,2.6 71.0,3.2 73.0,2.8 83.6,-2.0 92.3,-2.0 93.0,-0.9 94.0,-0.2 95.0,-0.2 100.0,-1.5 106.3,-2.0 127.0,-2.0 129.0,-1.5 130.0,-2.0 182.0,-2.0 182.0,36.1 180.0,35.7 178.5,35.0 178.0,34.0 178.9,32.0 178.0,31.1 174.0,30.9 170.0,28.8 164.0,27.6 163.0,26.9 160.9,24.0 157.0,21.3 156.0,20.9 149.0,20.7 141.0,22.1 137.0,25.5 134.0,29.3 131.0,31.4 123.0,32.1 118.0,30.7 117.0,31.5 115.3,34.0 114.0,35.1 112.0,35.5 108.0,35.7 101.2,39.0 96.6,44.0 53.1,44.0 52.4,42.0 51.0,40.8 47.0,39.1 42.0,38.1 36.0,35.0 33.2,32.0 33.1,31.0 33.8,29.0 33.5,28.0 28.0,25.2 23.5,21.0 22.9,20.0 22.6,18.0 24.2,12.0 24.1,11.0 23.4,10.0 20.1,8.0 19.3,7.0 19.6,3.0 18.2,1.0Z"/>
<path fill="#fcdecd" fill-rule="evenodd" d="M22.7,-2.0 47.9,-2.0 48.8,0.0 47.3,2.0 47.6,3.0 52.0,4.2 52.5,6.0 54.0,6.7 58.0,5.5 59.0,6.0 60.6,9.0 62.0,10.0 68.0,10.8 71.0,10.4 74.0,9.2 77.3,7.0 82.0,2.7 84.0,1.8 85.9,2.0 87.0,3.1 89.0,3.5 95.0,2.8 103.0,0.9 109.0,0.6 111.0,1.5 112.3,4.0 114.0,5.5 116.0,6.2 119.0,6.6 120.0,7.4 120.4,11.0 122.8,14.0 123.8,16.0 123.7,18.0 124.9,23.0 127.0,23.5 130.0,22.5 130.9,23.0 130.8,24.0 128.6,27.0 126.0,28.8 122.0,29.8 118.0,29.3 117.0,29.6 116.0,30.5 114.4,33.0 113.0,34.0 107.0,34.9 103.5,37.0 101.0,37.9 94.3,44.0 71.0,44.0 62.0,41.3 57.0,38.2 56.0,37.0 54.3,33.0 52.0,30.8 51.6,30.0 51.5,28.0 51.0,27.6 50.0,27.5 46.0,28.4 45.0,28.1 41.0,26.9 38.0,24.5 34.0,22.9 33.3,22.0 32.6,20.0 30.0,17.0 30.8,14.0 28.6,9.0 25.0,5.9 24.0,4.5Z M140.9,-2.0 182.0,-2.0 182.0,27.2 175.0,23.4 171.0,22.9 160.0,19.4 153.0,18.6 149.0,17.4 145.0,16.7 140.8,15.0 140.0,14.0 140.3,5.0 139.9,4.0 138.1,2.0Z M52.9,4.0 53.0,4.0 53.1,4.0 53.0,4.0Z"/>
<path fill="#f9c2a7" fill-rule="evenodd" d="M150.9,-1.0 152.9,-2.0 163.8,-2.0 166.0,2.4 167.0,2.8 171.8,0.0 174.0,-0.1 173.8,1.0 172.5,3.0 172.7,4.0 173.9,5.0 177.8,7.0 180.0,10.0 178.6,14.0 177.0,15.1 173.0,16.2 168.0,15.8 161.0,17.0 156.0,16.5 154.0,15.8 149.0,12.8 147.5,11.0 144.2,9.0 143.8,8.0 144.0,6.8 145.0,4.9 148.0,2.9Z M101.6,4.0 103.0,3.8 105.0,4.2 107.5,6.0 116.0,10.7 119.3,15.0 119.6,17.0 122.1,25.0 122.3,26.0 121.9,27.0 120.0,27.9 118.0,27.9 116.0,28.6 113.0,32.2 111.3,33.0 108.0,33.4 106.0,34.1 103.0,36.2 100.0,37.1 94.0,42.3 90.0,43.8 87.0,43.9 82.0,42.5 77.0,41.8 72.1,40.0 70.4,39.0 66.7,33.0 63.5,30.0 63.0,29.0 62.5,26.0 60.3,23.0 60.5,22.0 65.0,18.5 69.2,16.0 72.7,13.0 76.0,11.4 83.0,7.2 85.0,6.6 97.0,5.7Z M42.7,8.0 44.0,7.7 45.1,8.0 44.0,8.7 43.0,8.8Z"/>
<path fill="#f2a17f" fill-rule="evenodd" d="M154.6,5.0 156.0,4.2 157.0,4.1 159.0,5.0 162.0,7.0 163.1,8.0 163.9,10.0 164.0,12.0 163.5,13.0 162.0,13.7 158.0,13.9 155.0,12.9 153.4,11.0 152.8,9.0 153.2,7.0Z M102.0,9.0 103.0,8.3 104.0,8.4 105.6,10.0 108.0,11.7 113.0,12.5 115.1,14.0 115.7,15.0 115.9,18.0 117.2,20.0 118.0,22.5 118.4,24.0 118.0,25.3 114.0,27.7 111.0,31.2 106.0,32.3 103.0,34.4 98.9,36.0 93.0,40.8 91.0,41.4 89.0,41.5 86.5,41.0 85.1,40.0 84.0,38.0 82.5,37.0 77.0,35.9 75.0,34.8 73.8,33.0 72.9,30.0 70.3,26.0 70.0,24.0 77.1,15.0 81.0,12.1 83.0,11.3 92.0,10.8 97.0,11.0 101.1,10.0Z"/>
<path fill="#e17860" fill-rule="evenodd" d="M88.2,14.0 99.0,13.9 101.0,14.3 106.0,18.0 106.4,19.0 106.1,20.0 106.6,21.0 109.7,23.0 109.8,24.0 108.6,26.0 106.0,28.8 101.4,32.0 94.0,36.0 91.0,38.2 90.0,38.2 86.0,35.2 78.8,32.0 77.0,30.0 76.2,28.0 76.6,26.0 76.5,23.0 79.0,18.0 81.0,16.2 83.0,15.0Z"/>
<path fill="#ce4f45" fill-rule="evenodd" d="M87.6,17.0 98.0,18.3 100.0,20.1 101.4,23.0 101.4,25.0 101.1,26.0 97.2,29.0 94.0,32.5 92.0,33.7 90.0,33.8 85.6,32.0 82.2,29.0 81.2,27.0 80.4,22.0 81.2,20.0 82.0,19.0 84.0,17.8Z"/>
<path fill="#b82531" fill-rule="evenodd" d="M84.2,21.0 85.0,20.5 87.0,20.3 91.8,21.0 94.3,22.0 94.7,23.0 93.4,26.0 91.0,28.8 90.0,29.3 88.0,29.1 86.0,28.1 84.5,26.0 83.6,22.0Z"/>
<rect x="230.0" y="-2" width="248.0" height="45.3" fill="#8dc2dc"/>
<path fill="#b3d6e8" fill-rule="evenodd" d="M230.0,-2.0 478.0,-2.0 478.0,44.0 230.0,44.0Z M270.0,11.9 269.3,13.0 269.9,14.0 271.0,14.4 272.5,14.0 272.9,13.0 271.3,12.0Z M288.0,3.7 285.3,5.0 284.4,6.0 284.3,8.0 285.0,8.8 287.0,9.4 290.0,9.2 293.5,5.0 292.8,4.0 292.0,3.7 290.0,3.5Z"/>
<path fill="#d5e7f1" fill-rule="evenodd" d="M230.0,-2.0 288.5,-2.0 286.0,-0.2 281.0,1.9 273.0,3.9 265.0,3.7 261.0,5.9 257.0,7.2 256.0,8.0 255.8,11.0 256.7,14.0 256.1,15.0 256.9,16.0 258.0,16.3 260.0,17.9 260.6,19.0 260.9,22.0 261.8,24.0 261.4,25.0 259.1,26.0 258.2,27.0 260.0,27.5 260.7,28.0 261.2,29.0 259.6,30.0 256.0,31.2 255.4,32.0 255.2,33.0 256.0,34.3 257.4,35.0 262.0,34.5 263.3,35.0 266.0,39.1 267.0,42.0 268.2,44.0 230.0,44.0Z M248.0,22.7 247.5,23.0 249.0,23.4 250.4,23.0 249.0,22.4Z M303.0,-2.0 478.0,-2.0 478.0,44.0 295.2,44.0 297.3,39.0 297.3,35.0 298.1,34.0 301.9,31.0 303.1,29.0 302.7,28.0 297.9,26.0 297.0,25.0 297.1,24.0 298.9,22.0 305.0,18.8 305.7,18.0 306.0,17.0 305.4,13.0 306.1,10.0 304.8,8.0 304.1,5.0 302.9,2.0Z M258.1,14.0 259.0,13.5 261.0,13.2 262.7,14.0 262.6,15.0 262.0,15.4 260.0,15.6 258.7,15.0Z"/>
<path fill="#ecf2f5" fill-rule="evenodd" d="M230.0,-2.0 241.4,-2.0 241.2,0.0 241.0,0.4 237.0,0.1 236.0,0.4 230.0,6.5Z M310.9,-2.0 410.6,-2.0 414.0,-1.4 416.2,-2.0 478.0,-2.0 478.0,44.0 356.9,44.0 357.6,42.0 357.7,38.0 357.0,36.4 356.0,35.8 355.0,36.0 354.0,37.1 351.2,44.0 302.5,44.0 301.4,40.0 301.7,36.0 305.0,33.6 308.4,30.0 309.4,27.0 309.0,23.0 310.0,21.6 313.3,19.0 314.9,17.0 310.8,14.0 310.6,13.0 312.7,10.0 313.2,8.0 312.5,3.0 310.9,0.0Z M230.0,18.0 231.7,19.0 231.7,22.0 233.2,24.0 233.4,27.0 234.6,29.0 238.0,31.2 243.0,33.5 248.0,34.4 250.0,35.3 251.3,37.0 253.5,42.0 255.5,44.0 230.0,44.0Z"/>
<path fill="#f9efe9" fill-rule="evenodd" d="M318.2,-2.0 376.4,-2.0 378.0,-0.8 380.0,-0.1 383.0,-1.3 385.0,-1.5 390.0,-0.1 395.1,0.0 399.0,1.2 403.0,-0.7 405.0,-0.9 409.0,-0.1 415.0,2.0 418.0,2.3 428.0,1.0 432.0,-0.8 439.0,-0.6 445.0,-1.4 448.0,-1.3 450.2,-2.0 478.0,-2.0 478.0,44.0 393.7,44.0 395.0,42.0 397.0,40.5 401.0,39.7 402.0,39.1 403.0,37.0 405.8,34.0 411.0,31.0 413.2,29.0 413.5,28.0 413.0,27.5 409.8,26.0 405.8,23.0 402.0,22.2 400.0,22.3 396.0,23.4 391.0,23.0 388.6,24.0 386.4,26.0 386.0,29.0 384.3,32.0 384.1,34.0 383.3,36.0 383.5,39.0 381.9,40.0 378.0,41.3 372.0,41.3 370.6,42.0 368.7,44.0 363.3,44.0 362.0,42.9 361.0,41.3 360.3,37.0 359.0,34.0 358.0,32.9 356.0,32.2 354.0,32.8 353.0,33.8 350.0,39.7 344.9,44.0 309.3,44.0 306.2,40.0 306.4,39.0 308.2,37.0 309.0,34.0 313.1,27.0 313.8,24.0 316.0,23.2 320.0,23.6 324.0,22.8 326.0,21.8 326.8,20.0 326.0,17.4 321.1,12.0 319.2,9.0 318.9,8.0 319.3,5.0 318.1,1.0Z M230.0,32.0 230.0,31.7 232.5,33.0 238.0,37.3 240.0,38.5 245.0,38.9 247.0,39.6 248.6,41.0 249.7,44.0 230.0,44.0Z"/>
<path fill="#fcdecd" fill-rule="evenodd" d="M324.7,-2.0 373.3,-2.0 375.0,0.6 378.0,1.9 380.0,2.1 384.0,1.2 386.0,1.2 392.1,3.0 398.0,5.3 399.0,5.4 403.0,3.3 405.0,2.7 407.0,2.8 413.0,4.5 421.0,5.1 430.0,4.4 435.0,3.4 449.0,3.9 452.0,3.0 454.5,0.0 457.5,-2.0 478.0,-2.0 478.0,44.0 402.5,44.0 406.5,41.0 409.0,38.1 415.0,35.7 417.0,35.3 419.0,35.7 422.0,37.7 424.0,38.3 427.0,38.1 428.1,37.0 427.8,34.0 427.4,33.0 425.4,31.0 424.4,29.0 422.0,26.1 413.6,23.0 410.0,19.6 404.0,17.9 398.0,19.1 391.0,18.7 383.0,20.8 378.0,21.4 376.0,23.1 374.3,26.0 373.4,28.0 373.0,30.3 369.0,32.5 367.1,35.0 366.0,35.6 364.0,35.6 361.2,32.0 359.0,30.3 357.0,29.4 355.0,29.3 353.1,30.0 351.8,31.0 350.3,33.0 349.0,35.9 348.0,37.1 344.5,40.0 341.0,41.7 340.0,41.8 338.5,41.0 340.7,37.0 340.4,34.0 339.7,33.0 338.2,32.0 336.0,31.4 334.6,32.0 333.5,34.0 331.2,36.0 330.0,40.7 328.0,39.4 327.0,39.2 319.0,39.3 315.0,40.2 313.5,40.0 312.5,39.0 312.1,35.0 313.0,33.8 316.2,31.0 317.5,30.0 323.0,27.7 327.0,28.0 329.0,27.7 329.9,27.0 330.4,26.0 330.9,21.0 329.5,17.0 325.1,9.0 325.0,8.0 326.0,5.0 324.7,0.0Z M230.0,38.0 230.0,37.4 234.0,37.8 238.4,41.0 243.4,44.0 230.0,44.0Z M330.9,41.0 332.3,42.0 332.0,42.4 331.0,42.3Z"/>
<path fill="#f9c2a7" fill-rule="evenodd" d="M328.4,-2.0 369.2,-2.0 371.0,1.0 373.0,2.5 379.0,4.1 385.0,3.4 386.1,4.0 389.0,7.5 391.0,9.0 401.7,11.0 401.5,12.0 401.0,12.2 393.0,13.2 381.0,17.5 374.0,18.8 372.7,20.0 372.3,23.0 371.2,25.0 369.0,27.1 366.0,28.9 363.3,29.0 359.0,27.2 356.0,26.7 353.0,27.0 349.0,28.3 347.0,28.5 343.0,25.3 339.0,23.8 337.0,22.2 332.0,15.1 330.9,11.0 329.3,8.0 329.2,7.0 330.2,3.0 328.7,0.0Z M470.9,-1.0 473.3,-2.0 478.0,-2.0 478.0,44.0 439.0,44.0 439.1,43.0 439.7,42.0 442.0,39.5 444.7,38.0 445.1,37.0 444.7,36.0 442.1,34.0 440.1,31.0 438.0,30.4 434.0,30.2 432.9,28.0 431.6,27.0 416.0,21.9 414.3,20.0 413.0,16.2 410.0,14.0 408.0,11.0 406.5,10.0 405.8,9.0 415.0,8.7 420.0,7.6 427.0,7.3 435.0,5.9 440.0,6.8 445.0,7.1 446.5,8.0 447.0,10.0 447.9,11.0 450.0,12.2 452.0,12.4 455.8,11.0 457.4,10.0 458.0,9.1 460.6,8.0 460.9,7.0 459.7,4.0 459.8,3.0 461.0,2.1 469.0,0.0Z M230.0,43.0 230.0,42.6 235.4,44.0 230.0,44.0Z"/>
<path fill="#f2a17f" fill-rule="evenodd" d="M333.2,-2.0 363.8,-2.0 367.0,1.4 369.3,5.0 371.0,5.7 383.0,6.5 384.0,7.3 384.8,10.0 384.5,11.0 383.2,12.0 379.0,14.0 373.0,14.7 368.0,16.4 363.0,16.4 352.0,20.9 347.0,20.4 345.0,19.8 339.0,16.8 335.5,14.0 334.9,13.0 334.6,10.0 333.0,7.0 334.6,4.0Z M433.0,8.0 436.0,7.9 439.0,9.0 441.2,11.0 442.0,13.3 449.2,17.0 451.1,19.0 451.0,20.0 445.4,25.0 440.0,25.5 437.0,25.1 432.0,23.2 421.0,21.6 417.6,20.0 417.1,19.0 417.4,15.0 418.0,13.4 419.3,12.0 422.0,10.6 428.0,9.5Z M477.8,8.0 478.0,7.9 478.0,9.9 477.2,9.0Z M470.6,12.0 476.0,11.9 478.0,11.3 478.0,44.0 458.3,44.0 462.6,39.0 461.1,36.0 461.4,35.0 467.9,32.0 467.6,31.0 463.0,28.5 462.0,27.0 462.6,26.0 466.8,24.0 467.0,22.0 468.0,20.7 471.0,20.1 472.4,19.0 472.6,18.0 472.0,17.0 469.8,14.0 469.5,13.0Z"/>
<path fill="#e17860" fill-rule="evenodd" d="M337.3,-2.0 360.5,-2.0 362.4,2.0 362.4,3.0 360.6,7.0 358.0,10.8 353.0,14.0 350.0,14.4 342.0,13.1 340.0,12.2 338.8,10.0 338.7,9.0 340.5,6.0 340.0,4.4 338.2,2.0Z M424.4,15.0 426.0,14.6 429.2,15.0 429.8,16.0 429.6,17.0 429.1,18.0 427.7,19.0 426.0,19.3 423.4,19.0 422.4,18.0 422.5,17.0 423.1,16.0Z"/>
<path fill="#ce4f45" fill-rule="evenodd" d="M340.9,-2.0 357.3,-2.0 357.6,0.0 355.0,6.0 354.0,7.3 353.0,7.9 352.0,7.9 348.0,6.1 345.0,5.6 344.0,4.8 342.1,2.0Z"/>
<path fill="#b82531" fill-rule="evenodd" d="M344.0,-2.0 345.0,-2.0 353.1,-2.0 352.6,-1.0 350.3,1.0 348.8,2.0 347.0,2.5 346.0,2.3 345.0,1.5 344.3,0.0Z"/></g></g>
<g clip-path="url(#boxs)"><use href="#coast"/></g>
</g>
<g transform="translate(0,292.00)">
<g clip-path="url(#box)"><g clip-path="url(#land)"><rect x="12.0" y="-2" width="170.0" height="45.3" fill="#3b88be"/>
<path fill="#5fa5cd" fill-rule="evenodd" d="M12.0,-2.0 182.0,-2.0 182.0,44.0 12.0,44.0Z M123.0,21.9 120.0,23.0 119.8,24.0 121.0,26.1 122.4,27.0 125.0,27.5 129.8,27.0 130.3,26.0 127.7,23.0 125.8,22.0Z"/>
<path fill="#8dc2dc" fill-rule="evenodd" d="M12.0,-2.0 182.0,-2.0 182.0,44.0 12.0,44.0Z M117.0,19.7 115.0,21.0 113.6,24.0 114.1,25.0 117.0,27.7 119.0,28.7 129.0,31.1 134.0,31.1 137.0,30.2 140.0,27.3 142.0,27.6 142.8,27.0 142.0,26.0 140.0,25.6 135.0,22.4 128.0,19.7Z"/>
<path fill="#b3d6e8" fill-rule="evenodd" d="M12.0,-2.0 182.0,-2.0 182.0,44.0 12.0,44.0Z M111.0,14.5 110.0,15.0 110.5,16.0 112.1,17.0 112.2,18.0 110.4,21.0 109.3,24.0 109.3,26.0 111.0,28.0 117.0,31.1 121.0,31.5 126.0,33.3 130.0,34.1 134.0,34.0 140.0,33.0 140.5,30.0 141.0,29.5 144.3,29.0 145.1,26.0 146.4,24.0 144.0,22.1 135.0,18.3 127.0,16.2 123.0,16.1 118.0,15.0 114.0,15.2 112.0,14.4Z"/>
<path fill="#d5e7f1" fill-rule="evenodd" d="M12.0,-2.0 182.0,-2.0 182.0,44.0 121.1,44.0 121.3,43.0 122.0,42.0 124.8,39.0 126.0,38.3 136.0,36.2 141.0,33.8 141.8,33.0 142.6,31.0 147.0,30.0 150.0,29.9 151.6,29.0 152.4,27.0 152.2,25.0 149.6,21.0 149.5,20.0 152.6,18.0 152.5,17.0 149.0,13.7 147.0,13.6 144.0,15.6 142.6,16.0 141.0,15.9 137.3,14.0 135.6,12.0 134.0,10.9 131.0,10.0 125.0,9.7 123.0,9.1 121.0,7.0 121.1,3.0 120.6,2.0 118.1,1.0 116.0,0.8 113.0,1.7 110.0,3.9 106.3,6.0 105.2,9.0 105.4,13.0 104.1,16.0 104.1,17.0 105.1,20.0 104.1,24.0 105.3,27.0 105.2,31.0 106.0,32.4 107.0,33.1 112.0,33.5 113.7,34.0 114.9,35.0 115.0,36.0 112.9,38.0 113.0,38.7 116.7,41.0 116.0,41.9 113.0,41.5 111.0,43.0 110.3,44.0 18.0,44.0 15.0,41.8 12.0,41.5Z"/>
<path fill="#ecf2f5" fill-rule="evenodd" d="M12.0,-2.0 13.0,-2.0 145.9,-2.0 141.5,0.0 137.0,0.6 134.0,3.4 132.0,4.6 130.0,4.5 129.0,4.1 127.3,1.0 124.7,-1.0 123.0,-1.4 115.0,-1.9 112.0,-1.2 108.0,1.4 102.0,1.9 100.0,2.8 100.0,4.0 102.0,7.4 102.4,11.0 102.1,13.0 100.7,17.0 99.9,23.0 100.0,27.0 98.4,31.0 99.5,33.0 99.3,34.0 96.4,35.0 92.0,35.2 90.3,36.0 90.2,37.0 94.1,40.0 94.2,41.0 92.1,41.0 88.0,39.6 87.4,39.0 87.0,36.0 87.5,35.0 87.3,34.0 83.0,31.7 81.0,31.1 78.9,32.0 78.0,34.0 73.0,35.3 69.0,37.3 62.2,39.0 60.0,42.6 53.0,42.3 51.0,42.9 50.5,44.0 44.6,44.0 44.0,42.0 43.0,41.4 37.0,40.6 35.0,40.7 32.0,42.1 28.8,42.0 26.8,41.0 27.2,40.0 29.8,38.0 29.0,37.6 27.0,37.5 22.0,38.2 17.0,35.5 12.0,34.5Z M147.3,-2.0 182.0,-2.0 182.0,44.0 136.8,44.0 137.3,41.0 138.4,39.0 140.2,37.0 145.0,34.7 155.0,32.6 156.0,31.8 159.2,27.0 163.5,25.0 163.8,24.0 160.1,22.0 159.5,21.0 160.1,20.0 163.4,18.0 164.1,17.0 163.3,15.0 163.0,11.7 159.0,11.6 155.2,10.0 153.6,9.0 152.9,8.0 153.8,7.0 156.0,6.4 159.0,6.4 160.0,7.0 161.8,9.0 163.0,11.0 164.0,11.2 169.0,10.5 169.7,9.0 169.0,8.1 166.0,8.6 164.0,8.4 162.2,7.0 161.6,6.0 162.0,5.0 164.4,3.0 165.0,2.0 164.5,1.0 160.0,-0.4 157.0,-0.8 155.0,-0.4 151.0,1.2 149.0,1.5 148.2,1.0 148.2,-1.0Z M60.8,44.0 61.0,43.3 62.0,43.4 62.7,44.0Z"/>
<path fill="#f9efe9" fill-rule="evenodd" d="M12.0,-2.0 13.0,-2.0 108.6,-2.0 107.0,-1.0 106.0,-0.8 103.0,-1.5 101.0,-1.2 99.0,-0.1 97.5,2.0 97.2,4.0 98.6,8.0 99.0,12.0 97.0,19.2 94.0,25.4 93.0,26.6 91.0,27.1 83.0,26.8 77.0,28.6 75.0,28.9 71.0,28.5 67.0,28.9 65.0,28.7 60.0,27.0 56.0,26.5 53.0,25.4 50.0,23.5 47.5,23.0 45.0,23.2 38.0,25.1 36.0,25.2 34.0,24.5 32.0,22.9 30.0,22.1 28.0,22.8 26.0,24.1 24.0,24.5 22.0,23.5 16.0,18.4 15.0,18.4 12.0,20.4Z M180.5,8.0 182.0,7.3 182.0,10.7 180.7,9.0Z M180.8,12.0 182.0,11.1 182.0,17.5 177.8,16.0 177.4,15.0 178.1,14.0Z M171.6,27.0 173.0,26.7 175.0,27.1 177.6,28.0 180.0,29.7 182.0,30.1 182.0,44.0 141.3,44.0 142.0,41.8 147.0,38.8 151.0,37.9 156.0,38.3 160.0,37.1 169.3,36.0 170.3,35.0 168.0,32.1 168.0,31.0 170.0,28.0Z"/>
<path fill="#fcdecd" fill-rule="evenodd" d="M21.0,-2.0 95.7,-2.0 93.3,0.0 92.4,2.0 93.6,5.0 93.2,9.0 94.0,12.0 94.0,15.0 93.0,17.0 92.1,18.0 85.0,22.2 75.0,23.7 68.0,23.5 66.9,23.0 66.7,22.0 67.5,21.0 70.8,19.0 73.0,16.2 73.5,15.0 73.1,14.0 71.0,12.5 66.0,11.6 65.0,11.0 64.0,9.4 61.0,7.4 60.7,7.0 61.0,6.0 62.0,5.1 64.8,4.0 64.8,3.0 64.0,2.5 56.0,2.3 49.0,0.3 47.0,0.3 45.4,1.0 44.8,2.0 44.7,6.0 43.0,7.0 39.0,7.6 38.0,7.1 37.0,5.6 36.0,5.5 32.0,6.3 28.3,5.0 27.3,4.0 26.7,2.0 26.0,1.0 22.1,-1.0Z M67.0,6.7 66.5,7.0 66.8,8.0 69.0,8.0 69.0,6.9Z M80.0,-0.7 79.1,0.0 79.9,1.0 84.5,2.0 86.4,2.0 86.6,1.0Z M61.5,12.0 64.0,12.1 65.1,14.0 65.1,16.0 63.4,18.0 63.0,20.1 62.0,20.4 60.0,20.0 59.5,19.0 59.9,18.0 59.3,17.0 55.0,16.5 54.0,15.7 53.7,15.0 54.2,14.0 55.5,13.0Z"/>
<rect x="230.0" y="-2" width="248.0" height="45.3" fill="#3b88be"/>
<path fill="#5fa5cd" fill-rule="evenodd" d="M230.0,-2.0 478.0,-2.0 478.0,44.0 413.9,44.0 409.0,42.6 399.0,42.3 397.0,42.6 394.9,44.0 357.2,44.0 353.0,41.7 352.0,42.3 351.2,44.0 230.0,44.0Z"/>
<path fill="#8dc2dc" fill-rule="evenodd" d="M230.0,-2.0 478.0,-2.0 478.0,40.0 473.0,42.0 471.0,42.2 467.0,41.7 464.0,42.5 461.0,44.0 460.0,43.9 456.0,42.0 446.0,41.9 441.0,42.5 437.0,44.0 425.1,44.0 411.5,40.0 407.0,37.5 404.0,36.9 399.0,37.9 393.1,41.0 389.1,44.0 371.0,44.0 369.0,42.5 367.0,41.8 358.0,40.6 353.0,38.6 352.0,38.5 349.6,40.0 347.0,43.0 344.2,44.0 330.2,44.0 328.3,43.0 325.0,40.1 322.0,39.1 318.0,40.4 312.3,44.0 230.0,44.0Z"/>
<path fill="#b3d6e8" fill-rule="evenodd" d="M230.0,-2.0 478.0,-2.0 478.0,29.5 473.0,30.6 467.0,33.7 466.0,33.4 464.4,32.0 463.0,31.7 461.0,31.9 455.0,33.8 443.0,32.1 442.5,33.0 442.5,36.0 442.0,37.2 440.0,37.7 435.0,37.8 429.0,38.7 419.0,38.6 407.0,34.4 403.0,33.9 401.0,34.0 398.0,34.8 394.0,37.0 389.2,38.0 388.1,39.0 386.0,42.0 385.0,42.8 380.2,44.0 376.0,43.8 370.0,37.5 367.0,36.0 361.0,35.5 356.0,36.9 354.0,36.2 352.0,36.2 346.0,39.6 344.0,40.0 342.0,39.7 338.0,38.1 336.0,38.3 334.0,39.1 332.0,39.0 329.7,38.0 321.2,33.0 319.0,32.6 315.0,33.3 310.3,37.0 309.9,38.0 310.6,41.0 309.0,42.6 306.2,44.0 278.2,44.0 276.0,42.1 274.0,39.0 270.2,35.0 269.0,34.4 267.0,34.1 264.0,34.9 263.4,36.0 264.4,37.0 268.0,39.0 269.0,40.0 268.4,44.0 231.1,44.0 231.5,42.0 230.0,40.7 230.0,24.9 231.3,24.0 230.0,23.3Z"/>
<path fill="#d5e7f1" fill-rule="evenodd" d="M230.0,-2.0 478.0,-2.0 478.0,18.7 473.0,18.4 466.0,19.1 464.5,20.0 462.2,23.0 457.0,25.8 455.0,25.5 451.7,24.0 448.0,23.4 442.0,25.5 435.0,26.7 433.2,28.0 433.2,29.0 433.9,30.0 433.5,31.0 431.0,32.8 429.0,34.8 427.0,35.3 421.0,34.6 415.6,32.0 412.8,29.0 411.0,28.1 409.0,28.0 405.0,30.0 400.0,29.5 398.0,29.7 395.0,31.8 387.0,36.3 383.5,40.0 381.0,41.0 379.0,40.5 371.6,35.0 368.0,33.3 357.0,32.2 353.0,31.0 347.0,32.0 345.0,31.8 343.5,31.0 341.9,29.0 340.0,27.9 337.0,28.3 334.7,30.0 334.8,31.0 337.0,32.0 337.7,33.0 335.0,33.1 331.0,30.7 328.6,27.0 327.0,26.2 325.0,25.8 322.0,26.0 320.0,26.6 316.8,29.0 310.1,31.0 305.0,33.2 294.0,33.7 291.0,34.6 287.0,36.8 281.0,37.6 280.0,37.1 279.1,36.0 277.0,31.6 275.0,28.9 270.0,29.1 266.0,26.7 262.0,25.8 260.7,24.0 257.6,21.0 257.3,19.0 256.4,18.0 254.0,17.3 249.0,16.9 244.5,16.0 242.6,15.0 242.4,14.0 243.1,13.0 243.0,12.0 236.0,9.3 234.0,9.1 230.0,10.7 230.0,4.6 231.2,4.0 231.1,3.0 230.0,2.5Z"/>
<path fill="#ecf2f5" fill-rule="evenodd" d="M238.9,-2.0 261.9,-2.0 262.0,-0.8 263.0,0.4 264.0,1.0 265.0,0.8 266.0,-0.9 266.1,-2.0 467.9,-2.0 466.0,-0.1 463.1,1.0 461.0,1.2 458.0,0.8 456.0,1.7 455.5,3.0 455.6,5.0 455.0,6.0 451.0,9.4 447.0,7.3 445.0,7.0 442.0,7.8 440.0,8.9 439.3,10.0 439.9,16.0 439.0,16.9 434.9,17.0 432.2,18.0 431.4,19.0 430.8,21.0 430.0,22.0 428.2,24.0 427.0,24.7 424.0,25.3 419.0,24.0 405.0,24.3 401.0,23.5 399.0,23.7 395.0,26.6 391.0,28.2 386.4,33.0 381.0,35.7 379.0,34.7 375.0,30.9 373.0,29.7 367.0,29.5 356.0,26.8 352.0,26.2 351.0,25.7 348.5,23.0 343.0,19.6 341.0,18.7 334.0,18.0 328.0,18.1 325.0,19.1 321.5,22.0 319.0,22.5 317.0,22.3 313.0,20.9 312.0,21.0 309.0,22.4 302.0,22.3 301.6,22.0 301.0,20.0 300.0,19.2 296.0,18.3 294.0,18.4 292.0,19.6 291.0,19.7 290.0,19.2 289.4,18.0 289.3,17.0 290.0,15.0 289.2,14.0 285.0,11.8 277.0,10.0 272.0,6.7 270.0,6.3 266.0,6.5 265.0,6.2 265.2,5.0 266.9,3.0 265.0,1.4 264.0,1.1 262.9,2.0 258.0,3.2 256.0,2.6 253.0,0.9 251.3,1.0 250.3,2.0 250.7,3.0 252.0,4.0 254.5,5.0 255.5,6.0 254.5,8.0 253.0,8.9 245.0,8.4 243.8,8.0 241.0,4.0 237.6,1.0Z M264.9,10.0 266.0,9.5 267.0,9.6 269.1,10.0 271.5,11.0 269.0,12.0 268.0,12.0 265.4,11.0Z"/>
<path fill="#f9efe9" fill-rule="evenodd" d="M316.0,-2.0 316.0,-2.0 444.8,-2.0 439.6,5.0 436.1,8.0 434.6,13.0 433.4,14.0 430.0,15.4 425.0,19.0 422.0,19.5 417.0,18.7 413.0,19.6 406.0,20.4 394.0,19.6 389.0,21.0 383.0,23.7 376.0,24.1 370.0,23.5 365.0,23.6 363.0,23.1 361.1,22.0 359.0,21.4 353.0,21.1 348.5,19.0 347.3,18.0 345.7,15.0 343.0,14.0 336.0,13.5 332.0,12.8 324.0,14.8 316.0,13.8 313.0,12.9 309.8,11.0 308.8,10.0 308.9,9.0 311.0,7.3 315.0,6.0 316.5,5.0 317.1,1.0Z"/>
<path fill="#fcdecd" fill-rule="evenodd" d="M326.8,-2.0 327.0,-2.0 436.4,-2.0 433.0,1.7 431.0,5.5 425.0,9.0 424.2,10.0 426.3,13.0 425.0,14.5 423.0,14.9 418.0,14.6 412.0,16.1 406.0,14.1 398.0,13.2 388.0,17.2 382.0,17.6 377.0,19.0 361.0,18.2 356.0,17.0 351.0,16.9 349.6,16.0 347.5,10.0 346.0,8.9 334.0,6.9 329.0,7.4 327.0,7.0 325.5,6.0 324.3,4.0 325.0,2.6 327.7,1.0Z"/>
<path fill="#f9c2a7" fill-rule="evenodd" d="M331.9,-2.0 332.0,-2.0 346.8,-2.0 345.0,-1.3 342.0,-0.9 340.0,-1.1 338.0,-1.9 335.0,-1.0Z M350.4,-2.0 351.0,-2.0 427.6,-2.0 425.0,-0.3 420.1,2.0 419.3,4.0 418.0,5.4 412.1,7.0 408.0,9.7 404.0,10.1 398.0,9.5 393.0,11.0 391.0,11.3 380.0,10.6 378.0,11.1 376.2,12.0 373.7,15.0 369.0,15.5 365.6,15.0 363.9,14.0 360.7,8.0 358.7,5.0 357.0,3.3 355.0,2.4 352.0,2.7 351.0,2.2 350.2,1.0 350.1,0.0Z"/>
<path fill="#f2a17f" fill-rule="evenodd" d="M360.0,-2.0 361.0,-2.0 413.8,-2.0 412.6,0.0 411.0,1.2 409.0,1.6 405.0,1.1 402.0,2.4 400.3,4.0 399.8,6.0 393.0,7.7 389.0,7.4 384.0,7.7 378.0,7.2 369.0,4.2 366.0,4.0 362.9,0.0Z"/>
<path fill="#e17860" fill-rule="evenodd" d="M373.3,-2.0 395.0,-2.0 395.9,1.0 395.5,2.0 395.0,2.3 393.0,2.8 387.0,2.2 376.0,3.0 374.6,2.0Z"/></g></g>
<g clip-path="url(#boxs)"><use href="#coast"/></g>
</g>
<g transform="translate(0,344.90)">
<g clip-path="url(#box)"><g clip-path="url(#land)"><rect x="12.0" y="-2" width="170.0" height="45.3" fill="#5fa5cd"/>
<path fill="#8dc2dc" fill-rule="evenodd" d="M12.0,-2.0 182.0,-2.0 182.0,44.0 12.0,44.0Z M121.0,21.8 118.2,23.0 117.9,24.0 120.0,26.7 122.0,27.6 128.0,28.8 131.0,28.9 133.3,28.0 135.0,26.0 134.5,25.0 133.1,24.0 130.0,23.2 127.0,21.6 125.0,21.3Z"/>
<path fill="#b3d6e8" fill-rule="evenodd" d="M12.0,-2.0 182.0,-2.0 182.0,44.0 12.0,44.0Z M117.0,18.9 114.0,21.0 112.5,23.0 111.6,25.0 112.0,26.1 117.0,29.4 122.0,30.1 127.0,32.3 130.0,32.5 137.0,31.6 138.0,31.1 138.5,30.0 140.0,28.6 141.0,28.4 143.0,28.8 143.9,28.0 143.0,24.2 138.0,21.4 127.0,18.4 122.0,18.9 119.0,18.6Z"/>
<path fill="#d5e7f1" fill-rule="evenodd" d="M12.0,-2.0 182.0,-2.0 182.0,44.0 21.3,44.0 19.0,42.0 16.6,39.0 15.0,38.3 12.0,37.9Z M129.0,11.0 119.0,12.2 117.4,13.0 113.7,16.0 112.0,19.0 110.0,21.5 105.9,25.0 105.1,30.0 105.7,31.0 107.0,31.5 112.0,31.4 120.0,32.6 126.0,34.5 138.0,34.7 141.0,33.9 141.6,33.0 141.4,31.0 141.8,30.0 144.0,30.6 147.0,29.9 150.0,32.2 156.0,34.2 160.0,34.6 162.2,34.0 162.7,33.0 162.1,32.0 159.4,30.0 159.3,29.0 159.7,28.0 162.4,25.0 162.0,24.0 159.0,23.0 155.0,23.8 153.0,23.8 150.0,22.5 146.0,22.1 144.0,21.0 139.4,16.0 138.1,14.0 137.7,12.0 137.0,11.0 134.0,10.4Z"/>
<path fill="#ecf2f5" fill-rule="evenodd" d="M12.0,-2.0 182.0,-2.0 182.0,44.0 161.9,44.0 164.4,41.0 164.0,39.0 165.0,38.0 168.0,36.7 168.6,36.0 168.6,35.0 165.9,30.0 165.7,29.0 166.3,26.0 165.9,24.0 162.9,21.0 162.0,19.3 161.0,18.7 156.0,18.1 148.0,20.0 146.0,19.6 144.2,18.0 142.9,16.0 141.4,8.0 141.0,7.0 139.0,4.9 136.0,3.5 132.0,4.2 129.7,4.0 125.9,1.0 123.0,-0.0 118.0,0.9 116.0,2.0 114.1,5.0 112.0,9.6 104.2,16.0 103.8,17.0 103.6,20.0 101.1,23.0 100.0,26.6 98.7,29.0 98.4,30.0 98.8,31.0 101.8,33.0 104.0,36.1 106.0,36.9 108.0,36.8 110.1,35.0 112.0,34.5 114.4,35.0 116.0,36.7 118.0,37.3 124.0,37.1 128.0,37.4 134.0,36.7 138.0,38.4 150.0,38.7 152.0,40.0 152.1,42.0 153.2,44.0 87.1,44.0 86.4,43.0 83.3,41.0 83.2,40.0 84.2,38.0 84.0,36.0 85.0,35.3 88.0,34.9 91.4,33.0 92.2,32.0 91.0,31.6 86.0,32.6 84.0,32.4 82.0,31.6 80.0,31.7 79.4,32.0 79.0,34.0 77.0,34.7 73.0,35.1 68.0,37.2 62.0,38.0 60.6,39.0 59.6,41.0 58.0,41.6 51.9,41.0 50.3,40.0 50.2,39.0 49.4,38.0 48.0,37.8 46.0,37.8 42.0,38.8 35.0,38.1 33.6,37.0 31.0,36.2 22.6,36.0 22.0,35.0 22.2,33.0 21.0,32.0 19.0,31.5 15.0,31.4 12.0,30.4Z M31.0,31.9 30.4,32.0 30.9,33.0 34.1,33.0 33.8,32.0Z"/>
<path fill="#f9efe9" fill-rule="evenodd" d="M12.0,-2.0 13.0,-2.0 119.7,-2.0 115.0,-0.9 113.0,0.4 110.0,4.6 104.8,9.0 103.5,12.0 100.2,16.0 97.9,21.0 96.0,23.3 93.0,26.0 91.0,26.4 85.0,26.2 76.0,28.9 71.0,28.0 66.0,28.0 60.0,25.4 55.0,25.1 52.0,23.5 50.0,22.9 46.0,22.9 37.0,25.3 34.0,24.7 31.1,23.0 30.0,22.7 28.5,23.0 26.0,24.3 24.0,24.4 22.0,23.5 16.0,18.8 15.0,18.8 12.0,20.2Z M134.2,-2.0 182.0,-2.0 182.0,44.0 179.1,44.0 179.1,43.0 180.4,41.0 180.7,40.0 179.0,38.5 175.9,34.0 171.2,31.0 170.3,29.0 170.1,26.0 169.6,25.0 165.6,20.0 165.0,18.0 164.2,17.0 162.0,16.1 155.0,15.8 152.0,16.4 148.0,17.9 147.0,17.6 145.7,16.0 144.3,9.0 143.0,5.8 139.2,1.0Z"/>
<path fill="#fcdecd" fill-rule="evenodd" d="M12.0,-2.0 13.0,-2.0 111.6,-2.0 109.0,1.2 107.0,2.1 105.0,1.9 101.0,-0.3 99.0,-0.4 97.8,0.0 96.7,1.0 96.3,3.0 97.0,5.0 99.5,8.0 99.4,9.0 95.8,18.0 94.0,19.7 89.0,22.3 85.0,23.3 77.0,24.6 70.0,23.1 69.0,22.1 71.0,19.8 72.6,15.0 72.3,14.0 70.9,13.0 69.0,12.6 66.0,12.8 64.0,15.9 62.0,16.7 55.0,16.5 53.6,16.0 52.9,15.0 53.1,14.0 54.0,12.9 56.0,11.7 60.3,11.0 59.6,10.0 57.0,9.0 55.0,7.0 53.0,5.9 51.2,6.0 50.0,6.6 46.1,11.0 45.0,11.6 41.0,10.9 37.0,10.8 35.0,11.2 31.0,13.0 30.0,13.1 24.0,12.1 19.0,12.3 15.0,11.6 12.0,11.6 12.0,8.9 15.0,8.4 18.0,8.4 19.0,7.8 19.5,6.0 19.0,4.0 18.0,3.4 16.0,2.9 12.0,2.6Z M140.7,-2.0 182.0,-2.0 182.0,28.8 178.8,27.0 177.4,25.0 176.0,24.0 172.0,22.7 170.0,21.4 168.0,19.3 166.8,16.0 165.0,14.5 162.0,13.3 158.0,13.6 156.0,13.2 149.0,9.5 147.0,7.5 143.1,0.0Z"/>
<path fill="#f9c2a7" fill-rule="evenodd" d="M23.6,-2.0 24.0,-2.0 48.3,-2.0 42.0,-0.5 41.2,0.0 40.0,2.5 34.0,4.1 32.0,3.8 30.0,2.9 26.7,0.0Z M60.4,-2.0 77.4,-2.0 77.7,0.0 80.0,2.3 84.0,3.0 89.0,3.1 91.0,3.9 92.1,5.0 92.4,6.0 92.0,9.0 92.5,14.0 91.9,16.0 89.9,18.0 85.0,20.9 83.0,21.1 80.0,20.1 78.5,19.0 77.8,18.0 78.1,15.0 77.7,14.0 75.9,12.0 74.8,9.0 71.0,6.0 67.6,4.0 65.0,1.4 61.8,0.0Z M106.7,-2.0 107.0,-2.0 107.1,-2.0 107.0,-1.9Z M151.2,-2.0 152.0,-2.0 153.1,-2.0 152.0,-1.5Z M161.5,-2.0 182.0,-2.0 182.0,21.8 177.8,19.0 176.0,18.7 172.0,18.9 170.6,18.0 169.9,15.0 170.3,11.0 170.0,8.0 169.0,7.0 166.0,6.0 165.9,5.0 167.3,2.0 167.3,1.0 166.0,-0.2Z M156.6,9.0 157.0,8.8 157.8,9.0 157.0,9.3Z"/>
<path fill="#f2a17f" fill-rule="evenodd" d="M178.6,-2.0 182.0,-2.0 182.0,15.9 179.1,15.0 178.5,14.0 179.4,11.0 177.5,8.0 179.0,2.0Z M75.7,5.0 76.0,4.3 77.0,4.5 79.0,5.9 82.0,6.9 86.9,10.0 87.4,12.0 87.0,13.4 86.0,14.2 85.0,14.4 84.0,13.9 82.8,11.0 79.2,10.0 78.5,9.0 78.0,6.8 76.0,6.0Z"/>
<rect x="230.0" y="-2" width="248.0" height="45.3" fill="#3b88be"/>
<path fill="#5fa5cd" fill-rule="evenodd" d="M230.0,-2.0 478.0,-2.0 478.0,44.0 409.9,44.0 408.0,42.2 401.0,40.9 399.0,41.9 397.4,44.0 370.0,44.0 366.4,40.0 364.0,38.9 362.0,39.1 357.0,41.9 352.0,42.9 350.3,44.0 230.0,44.0Z"/>
<path fill="#8dc2dc" fill-rule="evenodd" d="M230.0,-2.0 478.0,-2.0 478.0,44.0 421.2,44.0 419.0,43.1 416.0,41.0 414.0,39.0 412.0,38.2 402.0,37.6 395.0,39.4 391.0,39.8 385.3,44.0 375.3,44.0 373.0,42.4 369.5,38.0 368.5,36.0 367.1,35.0 366.0,34.8 364.2,35.0 362.0,35.9 357.0,39.0 356.0,39.2 353.0,38.3 351.0,38.6 348.2,42.0 345.8,44.0 325.8,44.0 325.0,41.8 322.0,40.4 321.0,40.5 319.0,41.5 316.3,44.0 230.0,44.0Z"/>
<path fill="#b3d6e8" fill-rule="evenodd" d="M230.0,-2.0 478.0,-2.0 478.0,44.0 444.6,44.0 441.0,41.9 434.0,41.6 432.1,41.0 430.0,39.8 429.0,39.7 426.0,40.7 424.0,40.7 422.7,40.0 421.0,37.0 419.6,36.0 417.0,35.0 415.0,34.7 410.8,35.0 402.0,33.9 396.0,35.3 392.0,35.6 390.0,36.2 388.7,37.0 385.5,41.0 383.0,42.4 381.0,42.8 378.8,42.0 374.0,38.8 372.7,37.0 372.2,35.0 371.2,34.0 368.0,32.8 365.0,32.3 363.0,32.4 359.0,33.6 356.0,35.7 355.0,36.0 353.0,35.9 351.0,36.4 348.0,37.9 345.0,40.0 342.0,40.9 340.2,42.0 339.0,42.3 335.0,41.6 332.0,39.6 327.0,38.0 325.6,37.0 324.0,33.7 321.0,33.1 318.0,33.8 317.0,35.0 312.0,37.6 309.5,42.0 307.8,44.0 277.1,44.0 276.5,41.0 275.0,40.1 273.0,40.8 269.0,44.0 236.4,44.0 235.0,42.6 230.0,41.8 230.0,39.8 234.7,37.0 234.7,36.0 233.0,35.2 230.0,35.7Z"/>
<path fill="#d5e7f1" fill-rule="evenodd" d="M230.0,-2.0 478.0,-2.0 478.0,44.0 470.6,44.0 469.0,42.2 465.0,40.7 460.0,41.4 456.0,39.2 451.9,38.0 450.6,37.0 450.1,36.0 450.0,34.0 449.5,33.0 447.8,32.0 443.0,32.2 439.0,31.8 435.0,32.7 426.0,32.5 422.0,32.9 419.2,32.0 416.0,30.0 411.0,29.9 404.0,28.7 401.0,29.0 394.4,32.0 385.1,35.0 384.0,38.2 383.0,39.0 381.0,39.3 377.9,38.0 376.6,37.0 376.6,36.0 378.0,34.6 381.3,34.0 380.3,33.0 377.0,32.6 365.5,30.0 354.0,30.8 348.0,30.1 345.3,29.0 344.4,28.0 343.8,26.0 343.0,25.0 342.0,24.8 339.8,25.0 337.6,26.0 334.0,28.5 332.0,29.1 330.0,28.8 328.5,28.0 328.0,27.0 328.3,25.0 327.0,24.1 321.0,24.2 318.9,25.0 316.0,27.2 314.6,29.0 313.0,29.9 304.6,31.0 301.0,33.5 296.0,35.8 293.0,36.6 287.0,36.5 283.0,35.2 278.2,33.0 276.5,31.0 275.0,30.5 265.0,33.1 262.0,33.0 256.0,31.2 254.0,28.7 251.9,27.0 251.8,26.0 253.0,24.0 253.4,20.0 254.0,18.0 253.9,17.0 252.9,16.0 249.0,14.8 241.0,14.5 234.3,10.0 230.0,9.1Z M266.0,-1.5 263.0,0.8 259.0,2.0 257.3,3.0 255.3,6.0 255.1,7.0 255.6,8.0 257.7,9.0 260.0,9.4 264.1,9.0 265.1,8.0 265.5,6.0 266.0,5.4 270.0,3.6 271.1,2.0 270.0,0.4 267.0,-1.3Z"/>
<path fill="#ecf2f5" fill-rule="evenodd" d="M275.5,-2.0 478.0,-2.0 478.0,37.1 473.0,35.8 468.0,35.3 463.0,33.6 458.9,34.0 457.7,33.0 456.5,30.0 457.4,29.0 459.0,28.5 460.0,27.6 460.0,26.0 459.0,25.0 456.0,24.7 451.0,26.8 448.0,26.3 445.8,25.0 443.7,23.0 443.3,21.0 442.4,20.0 441.0,19.7 438.6,20.0 437.6,21.0 437.9,24.0 437.0,24.7 427.0,26.0 424.0,27.2 422.0,26.9 419.0,24.4 416.0,23.9 410.0,24.2 406.0,25.6 399.0,25.7 389.0,28.4 387.0,28.6 380.0,27.6 363.0,27.8 356.8,27.0 350.0,24.9 346.0,22.6 341.0,21.4 338.0,19.8 334.0,18.9 326.0,19.7 319.0,21.3 317.0,21.2 313.0,20.0 312.0,20.3 309.0,22.1 307.0,22.6 300.0,20.9 296.0,20.9 291.0,20.2 290.0,19.8 289.5,19.0 289.1,17.0 286.0,15.1 281.2,13.0 279.7,11.0 276.0,8.3 275.9,7.0 277.4,5.0 276.4,3.0Z M247.1,10.0 248.0,9.6 248.3,10.0 248.0,10.1Z M273.8,13.0 275.0,12.6 276.5,13.0 275.0,13.3Z M298.8,26.0 299.0,25.8 299.1,26.0Z M477.5,40.0 478.0,39.6 478.0,40.6Z"/>
<path fill="#f9efe9" fill-rule="evenodd" d="M307.2,-2.0 478.0,-2.0 478.0,23.2 474.0,23.2 465.6,22.0 461.0,21.2 457.0,20.0 454.0,17.4 448.3,16.0 446.4,15.0 445.1,12.0 444.0,11.0 443.0,10.6 441.0,11.2 440.0,12.4 438.8,15.0 436.3,17.0 434.0,18.1 424.0,21.2 411.0,20.8 404.0,22.5 393.0,23.2 390.0,24.0 385.0,23.7 376.0,24.5 369.0,23.7 364.0,24.3 359.0,22.4 349.0,20.0 346.9,19.0 345.0,16.7 340.0,14.4 332.0,14.5 326.0,13.5 323.0,13.8 321.0,14.4 319.0,14.1 318.0,13.3 316.7,11.0 313.8,8.0 310.8,1.0 310.0,-0.0Z"/>
<path fill="#fcdecd" fill-rule="evenodd" d="M318.5,-2.0 478.0,-2.0 478.0,15.1 473.0,16.2 469.0,15.5 465.0,15.9 463.0,15.5 462.0,15.0 459.4,12.0 456.0,9.6 451.8,8.0 451.0,7.0 450.5,5.0 448.9,2.0 447.0,0.5 445.0,-0.0 443.0,0.3 441.6,1.0 437.0,5.4 436.3,7.0 436.7,10.0 436.0,12.0 434.0,13.5 431.0,14.4 428.0,17.0 426.0,17.8 420.0,17.9 416.0,18.4 409.0,17.6 403.0,18.9 395.0,18.9 375.0,21.7 366.0,21.3 362.0,20.4 359.4,19.0 356.6,17.0 355.0,14.6 354.1,15.0 353.4,17.0 352.0,17.5 351.0,17.5 350.0,16.7 349.0,14.5 348.0,13.5 341.0,10.5 336.0,10.3 332.0,8.4 327.6,8.0 325.9,6.0 326.0,3.0 325.0,0.9 323.0,-0.2 320.0,-0.3 319.0,-1.0Z M470.0,9.0 470.0,10.0 471.0,10.5 472.4,10.0 471.0,9.1Z"/>
<path fill="#f9c2a7" fill-rule="evenodd" d="M330.4,-2.0 331.0,-2.0 439.9,-2.0 435.0,3.0 432.0,7.9 431.0,8.7 428.0,9.0 425.8,13.0 425.0,14.0 424.0,14.4 420.0,14.2 414.0,12.8 404.0,14.0 398.0,13.4 394.0,14.4 392.0,15.2 389.4,17.0 387.0,17.5 384.2,17.0 382.0,15.7 380.0,15.1 372.0,15.4 367.0,17.3 362.0,16.1 360.0,15.0 355.0,9.4 353.0,9.1 350.0,9.8 348.0,9.9 339.0,6.7 337.9,6.0 336.5,4.0 333.6,2.0Z"/>
<path fill="#f2a17f" fill-rule="evenodd" d="M343.8,-2.0 344.0,-2.0 431.9,-2.0 431.0,1.0 430.0,2.6 427.0,4.5 424.0,7.0 422.0,8.0 417.0,6.7 415.0,7.5 413.6,9.0 411.0,10.0 397.0,10.1 389.0,12.4 386.0,12.9 383.0,12.5 379.0,11.0 377.0,11.0 371.0,11.8 367.0,13.1 365.0,13.4 363.0,13.1 360.0,11.3 356.0,6.5 354.0,5.1 350.0,5.8 349.0,5.5 348.5,5.0 347.4,2.0Z"/>
<path fill="#e17860" fill-rule="evenodd" d="M349.6,-2.0 350.0,-2.0 354.1,-2.0 352.0,-1.2 351.0,-1.2Z M357.2,-2.0 358.0,-2.0 423.7,-2.0 422.6,-1.0 421.0,-0.5 416.0,-1.0 413.0,-0.6 410.0,1.6 407.0,2.8 402.0,5.7 399.0,6.7 394.0,7.1 389.0,8.3 378.0,7.7 370.0,8.1 364.0,9.9 362.0,9.7 360.5,9.0 358.2,6.0 357.8,4.0 358.0,0.0Z"/>
<path fill="#ce4f45" fill-rule="evenodd" d="M360.9,-1.0 361.2,-2.0 404.5,-2.0 403.3,-1.0 402.0,1.0 397.0,1.9 392.0,3.7 383.0,4.8 378.0,4.5 373.0,5.2 369.0,5.2 364.0,6.8 363.0,6.8 361.3,6.0 360.0,4.0 360.0,1.5Z"/>
<path fill="#b82531" fill-rule="evenodd" d="M366.4,-2.0 367.0,-2.0 396.1,-2.0 392.0,1.0 390.0,1.5 381.0,1.4 374.0,2.0 371.0,1.7 369.2,1.0Z"/>
<path fill="#930e26" fill-rule="evenodd" d="M373.3,-2.0 374.0,-2.0 384.4,-2.0 382.0,-1.2 379.0,-0.8 376.4,-1.0Z"/></g></g>
<g clip-path="url(#boxs)"><use href="#coast"/></g>
</g>
<path d="M104.4,411.4 L89.0,417.7 L104.4,424.0 Z" fill="#053061"/>
<path d="M393.5,411.4 L409.0,417.7 L393.5,424.0 Z" fill="#67001f"/>
<rect x="104.40" y="411.4" width="19.07" height="12.6" fill="#15508d"/>
<rect x="122.47" y="411.4" width="19.07" height="12.6" fill="#276eb0"/>
<rect x="140.54" y="411.4" width="19.07" height="12.6" fill="#3b88be"/>
<rect x="158.61" y="411.4" width="19.07" height="12.6" fill="#5fa5cd"/>
<rect x="176.68" y="411.4" width="19.07" height="12.6" fill="#8dc2dc"/>
<rect x="194.74" y="411.4" width="19.07" height="12.6" fill="#b3d6e8"/>
<rect x="212.81" y="411.4" width="19.07" height="12.6" fill="#d5e7f1"/>
<rect x="230.88" y="411.4" width="19.07" height="12.6" fill="#ecf2f5"/>
<rect x="248.95" y="411.4" width="19.07" height="12.6" fill="#f9efe9"/>
<rect x="267.02" y="411.4" width="19.07" height="12.6" fill="#fcdecd"/>
<rect x="285.09" y="411.4" width="19.07" height="12.6" fill="#f9c2a7"/>
<rect x="303.16" y="411.4" width="19.07" height="12.6" fill="#f2a17f"/>
<rect x="321.23" y="411.4" width="19.07" height="12.6" fill="#e17860"/>
<rect x="339.29" y="411.4" width="19.07" height="12.6" fill="#ce4f45"/>
<rect x="357.36" y="411.4" width="19.07" height="12.6" fill="#b82531"/>
<rect x="375.43" y="411.4" width="18.07" height="12.6" fill="#930e26"/>
<path d="M104.4,411.4 L393.5,411.4 L409.0,417.7 L393.5,424.0 L104.4,424.0 L89.0,417.7 Z" fill="none" stroke="#000" stroke-width="0.8" stroke-linejoin="miter"/>
<path d="M104.40,424.0 V427.8" stroke="#000" stroke-width="0.8"/>
<path d="M140.54,424.0 V427.8" stroke="#000" stroke-width="0.8"/>
<path d="M176.68,424.0 V427.8" stroke="#000" stroke-width="0.8"/>
<path d="M212.81,424.0 V427.8" stroke="#000" stroke-width="0.8"/>
<path d="M248.95,424.0 V427.8" stroke="#000" stroke-width="0.8"/>
<path d="M285.09,424.0 V427.8" stroke="#000" stroke-width="0.8"/>
<path d="M321.23,424.0 V427.8" stroke="#000" stroke-width="0.8"/>
<path d="M357.36,424.0 V427.8" stroke="#000" stroke-width="0.8"/>
<path d="M393.50,424.0 V427.8" stroke="#000" stroke-width="0.8"/>
<g filter="url(#ga)"><text class="s" x="4.6" y="29.0" font-size="16.6" textLength="8.1" lengthAdjust="spacingAndGlyphs">a</text><text x="8.6" y="62.2" font-size="8.5" stroke="#000" stroke-width="0.2" textLength="25.2" lengthAdjust="spacingAndGlyphs">stream</text><text class="s" x="4.6" y="81.6" font-size="16.6" textLength="9.1" lengthAdjust="spacingAndGlyphs">b</text><text x="8.6" y="114.8" font-size="8.5" stroke="#000" stroke-width="0.2" textLength="18.6" lengthAdjust="spacingAndGlyphs">Z500</text><text class="s" x="4.6" y="164.0" font-size="16.6" textLength="8.1" lengthAdjust="spacingAndGlyphs">c</text><text x="8.6" y="197.2" font-size="8.5" stroke="#000" stroke-width="0.2" textLength="25.2" lengthAdjust="spacingAndGlyphs">stream</text><text class="s" x="4.6" y="216.9" font-size="16.6" textLength="9.1" lengthAdjust="spacingAndGlyphs">d</text><text x="8.6" y="250.1" font-size="8.5" stroke="#000" stroke-width="0.2" textLength="18.6" lengthAdjust="spacingAndGlyphs">Z500</text><text class="s" x="4.6" y="299.6" font-size="16.6" textLength="8.1" lengthAdjust="spacingAndGlyphs">e</text><text x="8.6" y="332.8" font-size="8.5" stroke="#000" stroke-width="0.2" textLength="25.2" lengthAdjust="spacingAndGlyphs">stream</text><text class="s" x="4.6" y="352.5" font-size="16.6" textLength="6.1" lengthAdjust="spacingAndGlyphs">f</text><text x="8.6" y="385.7" font-size="8.5" stroke="#000" stroke-width="0.2" textLength="18.6" lengthAdjust="spacingAndGlyphs">Z500</text><text class="s" x="227.3" y="15.7" font-size="15.5" font-weight="bold" textLength="42.7" lengthAdjust="spacingAndGlyphs">run 1</text><text class="s" x="227.3" y="151.0" font-size="15.5" font-weight="bold" textLength="42.7" lengthAdjust="spacingAndGlyphs">run 2</text><text class="s" x="227.3" y="286.2" font-size="15.5" font-weight="bold" textLength="42.7" lengthAdjust="spacingAndGlyphs">run 3</text><text x="104.40" y="441.3" font-size="11.8" text-anchor="middle" textLength="26.4" lengthAdjust="spacingAndGlyphs">−0.4</text><text x="140.54" y="441.3" font-size="11.8" text-anchor="middle" textLength="26.4" lengthAdjust="spacingAndGlyphs">−0.3</text><text x="176.68" y="441.3" font-size="11.8" text-anchor="middle" textLength="26.4" lengthAdjust="spacingAndGlyphs">−0.2</text><text x="212.81" y="441.3" font-size="11.8" text-anchor="middle" textLength="26.4" lengthAdjust="spacingAndGlyphs">−0.1</text><text x="248.95" y="441.3" font-size="11.8" text-anchor="middle" textLength="16.6" lengthAdjust="spacingAndGlyphs">0.0</text><text x="285.09" y="441.3" font-size="11.8" text-anchor="middle" textLength="16.6" lengthAdjust="spacingAndGlyphs">0.1</text><text x="321.23" y="441.3" font-size="11.8" text-anchor="middle" textLength="16.6" lengthAdjust="spacingAndGlyphs">0.2</text><text x="357.36" y="441.3" font-size="11.8" text-anchor="middle" textLength="16.6" lengthAdjust="spacingAndGlyphs">0.3</text><text x="393.50" y="441.3" font-size="11.8" text-anchor="middle" textLength="16.6" lengthAdjust="spacingAndGlyphs">0.4</text><text x="248.7" y="456.7" font-size="11.2" text-anchor="middle" textLength="159.3" lengthAdjust="spacingAndGlyphs">trend in TREFHT per decade</text></g>
</svg></body></html>
